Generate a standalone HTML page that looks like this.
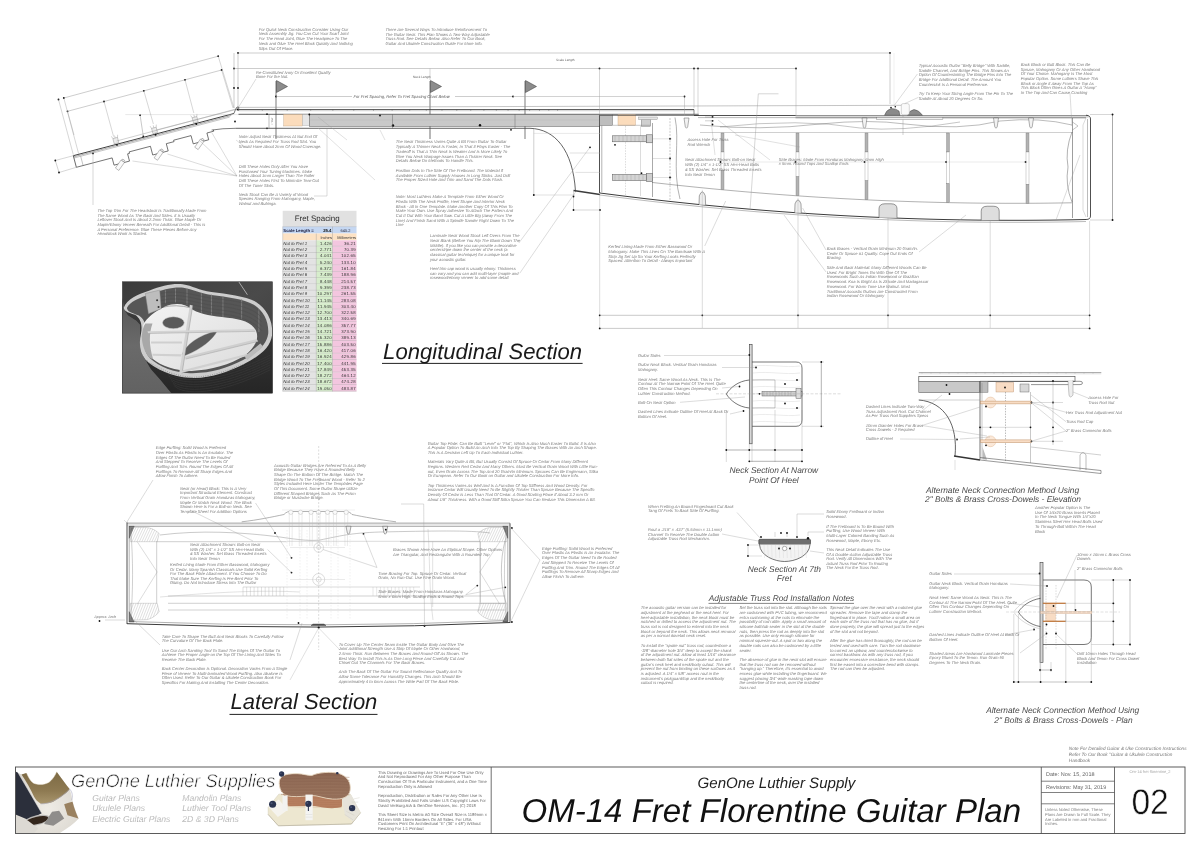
<!DOCTYPE html>
<html><head><meta charset="utf-8"><title>OM-14 Fret Florentine Guitar Plan</title>
<style>html,body{margin:0;padding:0;background:#fff;overflow:hidden;}svg{display:block;will-change:transform;}text{font-family:"Liberation Sans",sans-serif;}</style>
</head><body>
<svg width="1200" height="849" viewBox="0 0 1200 849" text-rendering="geometricPrecision">
<rect x="0" y="0" width="1200" height="849" fill="#ffffff"/>
<line x1="238" y1="53" x2="890" y2="53" stroke="#9a9a9a" stroke-width="0.5"/>
<circle cx="238" cy="53" r="0.9" fill="#111" stroke="none" stroke-width="0.6"/>
<circle cx="890" cy="53" r="0.9" fill="#111" stroke="none" stroke-width="0.6"/>
<line x1="890" y1="53" x2="890" y2="104" stroke="#9a9a9a" stroke-width="0.5"/>
<line x1="234" y1="68.5" x2="796" y2="68.5" stroke="#9a9a9a" stroke-width="0.5"/>
<circle cx="234" cy="68.5" r="0.9" fill="#111" stroke="none" stroke-width="0.6"/>
<circle cx="599.5" cy="68.5" r="0.9" fill="#111" stroke="none" stroke-width="0.6"/>
<circle cx="694" cy="68.5" r="0.9" fill="#111" stroke="none" stroke-width="0.6"/>
<circle cx="698" cy="68.5" r="0.9" fill="#111" stroke="none" stroke-width="0.6"/>
<circle cx="796" cy="68.5" r="0.9" fill="#111" stroke="none" stroke-width="0.6"/>
<line x1="234" y1="53" x2="234" y2="108" stroke="#9a9a9a" stroke-width="0.5"/>
<line x1="238" y1="53" x2="238" y2="108" stroke="#9a9a9a" stroke-width="0.5"/>
<circle cx="234" cy="88" r="0.9" fill="#111" stroke="none" stroke-width="0.6"/>
<circle cx="238" cy="88" r="0.9" fill="#111" stroke="none" stroke-width="0.6"/>
<text x="556" y="60.5" font-family="Liberation Sans" font-size="3.2" font-style="normal" font-weight="normal" fill="#666" text-anchor="start" ><tspan x="556" dy="0">Scale Length</tspan></text>
<text x="413" y="77.5" font-family="Liberation Sans" font-size="3.2" font-style="normal" font-weight="normal" fill="#666" text-anchor="start" ><tspan x="413" dy="0">Neck Length</tspan></text>
<line x1="430" y1="68.5" x2="430" y2="80" stroke="#9a9a9a" stroke-width="0.4"/>
<line x1="276" y1="81" x2="276" y2="139" stroke="#222" stroke-width="0.6"/>
<polygon points="276.5,80.5 276.5,92.5 287.5,86.5" stroke="#333" stroke-width="0.5" fill="#8c8c8c"/>
<line x1="430" y1="81" x2="430" y2="139" stroke="#222" stroke-width="0.6"/>
<polygon points="430.5,80.5 430.5,92.5 441.5,86.5" stroke="#333" stroke-width="0.5" fill="#8c8c8c"/>
<line x1="525" y1="81" x2="525" y2="139" stroke="#222" stroke-width="0.6"/>
<polygon points="525.5,80.5 525.5,92.5 536.5,86.5" stroke="#333" stroke-width="0.5" fill="#8c8c8c"/>
<circle cx="276" cy="96.5" r="0.9" fill="#111" stroke="none" stroke-width="0.6"/>
<line x1="276" y1="96.5" x2="352" y2="96.5" stroke="#9a9a9a" stroke-width="0.5"/>
<line x1="455" y1="96.5" x2="513" y2="96.5" stroke="#9a9a9a" stroke-width="0.5"/>
<circle cx="513" cy="96.5" r="0.9" fill="#111" stroke="none" stroke-width="0.6"/>
<text x="353.5" y="97.8" font-family="Liberation Sans" font-size="4.1" font-style="italic" font-weight="normal" fill="#5a5a5a" text-anchor="start" ><tspan x="353.5" dy="0">For Fret Spacing, Refer To Fret Spacing Chart Below</tspan></text>
<g transform="translate(73.3,155.7) rotate(-14.72)">
<line x1="0" y1="0" x2="166" y2="0" stroke="#3c3c3c" stroke-width="0.9"/>
<line x1="0" y1="1.2" x2="163" y2="1.2" stroke="#666" stroke-width="0.5"/>
<line x1="0" y1="2.4" x2="161" y2="2.4" stroke="#888" stroke-width="0.45"/>
<line x1="0" y1="0" x2="0" y2="12" stroke="#3c3c3c" stroke-width="0.7"/>
<line x1="7" y1="2.4" x2="7" y2="12" stroke="#777" stroke-width="0.4"/>
<polyline points="0,12 37,12 37,19.5 53,19.5 53,12 55,12 55,10.5 77,10.5 77,19.5 93,19.5 93,12 101,12 101,10.5 119,10.5 119,19 135,19 135,12 142,12 142,10.5" stroke="#3c3c3c" stroke-width="0.65" fill="none"/>
<g transform="translate(45,19) rotate(50)"><rect x="-2" y="-2" width="4.2" height="10" fill="#fafafa" stroke="#555" stroke-width="0.35"/><rect x="-1.2" y="-3.6" width="2.4" height="1.8" fill="#eee" stroke="#555" stroke-width="0.35"/></g>
<rect x="42.6" y="-6.5" width="4.8" height="5.5" fill="#ececec" stroke="#777" stroke-width="0.35" rx="0" />
<path d="M42.6,-6.5 L41.8,-9 M47.4,-6.5 L48.2,-9 M45,-6.5 L45,-9" stroke="#888" stroke-width="0.35" fill="none" />
<circle cx="45" cy="0.6" r="0.95" fill="#111" stroke="none" stroke-width="0.6"/>
<g transform="translate(85,19) rotate(50)"><rect x="-2" y="-2" width="4.2" height="10" fill="#fafafa" stroke="#555" stroke-width="0.35"/><rect x="-1.2" y="-3.6" width="2.4" height="1.8" fill="#eee" stroke="#555" stroke-width="0.35"/></g>
<rect x="82.6" y="-6.5" width="4.8" height="5.5" fill="#ececec" stroke="#777" stroke-width="0.35" rx="0" />
<path d="M82.6,-6.5 L81.8,-9 M87.4,-6.5 L88.2,-9 M85,-6.5 L85,-9" stroke="#888" stroke-width="0.35" fill="none" />
<circle cx="85" cy="0.6" r="0.95" fill="#111" stroke="none" stroke-width="0.6"/>
<g transform="translate(127,19) rotate(50)"><rect x="-2" y="-2" width="4.2" height="10" fill="#fafafa" stroke="#555" stroke-width="0.35"/><rect x="-1.2" y="-3.6" width="2.4" height="1.8" fill="#eee" stroke="#555" stroke-width="0.35"/></g>
<rect x="124.6" y="-6.5" width="4.8" height="5.5" fill="#ececec" stroke="#777" stroke-width="0.35" rx="0" />
<path d="M124.6,-6.5 L123.8,-9 M129.4,-6.5 L130.2,-9 M127,-6.5 L127,-9" stroke="#888" stroke-width="0.35" fill="none" />
<circle cx="127" cy="0.6" r="0.95" fill="#111" stroke="none" stroke-width="0.6"/>
</g>
<path d="M211.6,130.1 Q222,128.3 236,128.3" stroke="#3c3c3c" stroke-width="0.65" fill="none" />
<circle cx="93" cy="153.4" r="0.9" fill="#111" stroke="none" stroke-width="0.6"/>
<circle cx="140.1" cy="115.2" r="0.9" fill="#111" stroke="none" stroke-width="0.6"/>
<circle cx="143.3" cy="136.3" r="0.9" fill="#111" stroke="none" stroke-width="0.6"/>
<line x1="140.1" y1="115.2" x2="143.3" y2="136.3" stroke="#777" stroke-width="0.4"/>
<line x1="125.3" y1="114.6" x2="240" y2="114.6" stroke="#bbb" stroke-width="0.35"/>
<line x1="116.6" y1="141" x2="236" y2="109" stroke="#999" stroke-width="0.45"/>
<line x1="156.3" y1="130" x2="236" y2="109.5" stroke="#999" stroke-width="0.45"/>
<line x1="63.8" y1="98" x2="218.2" y2="56.2" stroke="#9a9a9a" stroke-width="0.5"/>
<circle cx="63.8" cy="98" r="0.9" fill="#111" stroke="none" stroke-width="0.6"/>
<circle cx="218.2" cy="56.2" r="0.9" fill="#111" stroke="none" stroke-width="0.6"/>
<circle cx="58.5" cy="99.5" r="0.9" fill="#111" stroke="none" stroke-width="0.6"/>
<line x1="67.5" y1="111.3" x2="221.6" y2="70" stroke="#9a9a9a" stroke-width="0.5"/>
<circle cx="67.5" cy="111.3" r="0.9" fill="#111" stroke="none" stroke-width="0.6"/>
<circle cx="221.6" cy="70" r="0.9" fill="#111" stroke="none" stroke-width="0.6"/>
<circle cx="104" cy="101.5" r="0.9" fill="#111" stroke="none" stroke-width="0.6"/>
<circle cx="143.8" cy="90.8" r="0.9" fill="#111" stroke="none" stroke-width="0.6"/>
<circle cx="185" cy="79.8" r="0.9" fill="#111" stroke="none" stroke-width="0.6"/>
<line x1="58.5" y1="99.5" x2="73.3" y2="154.7" stroke="#9a9a9a" stroke-width="0.4"/>
<line x1="63.8" y1="98" x2="78.6" y2="153.6" stroke="#9a9a9a" stroke-width="0.4"/>
<line x1="67.5" y1="111.3" x2="74" y2="135" stroke="#9a9a9a" stroke-width="0.4"/>
<line x1="104" y1="101.5" x2="113.6" y2="136.6" stroke="#9a9a9a" stroke-width="0.4"/>
<line x1="143.8" y1="90.8" x2="153.4" y2="124" stroke="#9a9a9a" stroke-width="0.4"/>
<line x1="185" y1="79.8" x2="193.8" y2="113" stroke="#9a9a9a" stroke-width="0.4"/>
<line x1="218.2" y1="56.2" x2="234" y2="108" stroke="#9a9a9a" stroke-width="0.4"/>
<line x1="221.6" y1="70" x2="233" y2="108" stroke="#9a9a9a" stroke-width="0.4"/>
<line x1="55.3" y1="160.5" x2="59" y2="172.5" stroke="#9a9a9a" stroke-width="0.45"/>
<line x1="55.3" y1="160.5" x2="73.3" y2="155.7" stroke="#9a9a9a" stroke-width="0.4"/>
<line x1="59" y1="172.5" x2="76" y2="167.4" stroke="#9a9a9a" stroke-width="0.4"/>
<circle cx="55.3" cy="160.5" r="0.9" fill="#111" stroke="none" stroke-width="0.6"/>
<circle cx="59" cy="172.5" r="0.9" fill="#111" stroke="none" stroke-width="0.6"/>
<line x1="93" y1="153.4" x2="93" y2="205" stroke="#9a9a9a" stroke-width="0.4"/>
<line x1="132.5" y1="161" x2="237" y2="176" stroke="#9a9a9a" stroke-width="0.35"/>
<line x1="167.5" y1="154" x2="237" y2="176" stroke="#9a9a9a" stroke-width="0.35"/>
<line x1="200" y1="141" x2="237" y2="176" stroke="#9a9a9a" stroke-width="0.35"/>
<line x1="212" y1="133" x2="237" y2="176" stroke="#9a9a9a" stroke-width="0.35"/>
<line x1="238" y1="107.4" x2="905" y2="105.3" stroke="#8a8a8a" stroke-width="0.5"/>
<line x1="238.5" y1="109.6" x2="694" y2="109.6" stroke="#3c3c3c" stroke-width="0.9"/>
<line x1="238.5" y1="110.8" x2="694" y2="110.8" stroke="#999" stroke-width="0.35"/>
<line x1="238.5" y1="114.3" x2="698.7" y2="114.3" stroke="#3c3c3c" stroke-width="0.8"/>
<line x1="694" y1="109.6" x2="694" y2="114.3" stroke="#3c3c3c" stroke-width="0.6"/>
<line x1="262.3476426547058" y1="109" x2="262.3476426547058" y2="110.8" stroke="#555" stroke-width="0.45"/>
<line x1="287.2165057561991" y1="109" x2="287.2165057561991" y2="110.8" stroke="#555" stroke-width="0.45"/>
<line x1="310.68958682329617" y1="109" x2="310.68958682329617" y2="110.8" stroke="#555" stroke-width="0.45"/>
<line x1="332.8452250820243" y1="109" x2="332.8452250820243" y2="110.8" stroke="#555" stroke-width="0.45"/>
<line x1="353.7573629155053" y1="109" x2="353.7573629155053" y2="110.8" stroke="#555" stroke-width="0.45"/>
<line x1="373.49579263978717" y1="109" x2="373.49579263978717" y2="110.8" stroke="#555" stroke-width="0.45"/>
<line x1="392.12638942920955" y1="109" x2="392.12638942920955" y2="110.8" stroke="#555" stroke-width="0.45"/>
<line x1="409.7113311686754" y1="109" x2="409.7113311686754" y2="110.8" stroke="#555" stroke-width="0.45"/>
<line x1="426.3093059665613" y1="109" x2="426.3093059665613" y2="110.8" stroke="#555" stroke-width="0.45"/>
<line x1="441.97570802082396" y1="109" x2="441.97570802082396" y2="110.8" stroke="#555" stroke-width="0.45"/>
<line x1="456.7628224919862" y1="109" x2="456.7628224919862" y2="110.8" stroke="#555" stroke-width="0.45"/>
<line x1="470.72" y1="109" x2="470.72" y2="110.8" stroke="#555" stroke-width="0.45"/>
<line x1="483.8938213273529" y1="109" x2="483.8938213273529" y2="110.8" stroke="#555" stroke-width="0.45"/>
<line x1="496.32825287809953" y1="109" x2="496.32825287809953" y2="110.8" stroke="#555" stroke-width="0.45"/>
<line x1="508.0647934116481" y1="109" x2="508.0647934116481" y2="110.8" stroke="#555" stroke-width="0.45"/>
<line x1="519.1426125410121" y1="109" x2="519.1426125410121" y2="110.8" stroke="#555" stroke-width="0.45"/>
<line x1="529.5986814577527" y1="109" x2="529.5986814577527" y2="110.8" stroke="#555" stroke-width="0.45"/>
<line x1="539.4678963198935" y1="109" x2="539.4678963198935" y2="110.8" stroke="#555" stroke-width="0.45"/>
<line x1="548.7831947146047" y1="109" x2="548.7831947146047" y2="110.8" stroke="#555" stroke-width="0.45"/>
<line x1="557.5756655843377" y1="109" x2="557.5756655843377" y2="110.8" stroke="#555" stroke-width="0.45"/>
<path d="M233.9,113.5 L235.5,109.5 L237,107 L238.8,107.3 L238.6,110.8" stroke="#3c3c3c" stroke-width="0.7" fill="none" />
<circle cx="237.5" cy="109.5" r="1.0" fill="#111" stroke="none" stroke-width="0.6"/>
<circle cx="235" cy="121.5" r="0.9" fill="#111" stroke="none" stroke-width="0.6"/>
<circle cx="267" cy="114.2" r="0.9" fill="#111" stroke="none" stroke-width="0.6"/>
<circle cx="267" cy="128.3" r="0.9" fill="#111" stroke="none" stroke-width="0.6"/>
<path d="M236,128.3 L530,128.3 C555,129 573,150 575.5,191.5" stroke="#3c3c3c" stroke-width="0.8" fill="none" />
<rect x="283.8" y="114.4" width="18.7" height="11.6" fill="#fbdcbc" stroke="#bda080" stroke-width="0.4" rx="0" />
<rect x="302.5" y="114.4" width="6.8" height="11.3" fill="#e6e6e6" stroke="#999" stroke-width="0.3" rx="0" />
<rect x="309.3" y="114.4" width="290.5" height="11.9" fill="#c9c9c9" stroke="#555" stroke-width="0.5" rx="0" />
<line x1="309.3" y1="120" x2="599" y2="120" stroke="#b0b0b0" stroke-width="0.3"/>
<circle cx="309.3" cy="114.5" r="0.9" fill="#111" stroke="none" stroke-width="0.6"/>
<circle cx="380" cy="115.5" r="0.9" fill="#111" stroke="none" stroke-width="0.6"/>
<circle cx="393" cy="125.5" r="1.2" fill="#111" stroke="none" stroke-width="0.6"/>
<circle cx="480" cy="125.3" r="1.2" fill="#111" stroke="none" stroke-width="0.6"/>
<circle cx="511" cy="129.8" r="0.9" fill="#111" stroke="none" stroke-width="0.6"/>
<line x1="269" y1="114.2" x2="269" y2="128.5" stroke="#555" stroke-width="0.4"/>
<line x1="392.5" y1="114.2" x2="392.5" y2="128.5" stroke="#555" stroke-width="0.4"/>
<line x1="515" y1="114.2" x2="515" y2="128.5" stroke="#555" stroke-width="0.4"/>
<text x="272.5" y="125" font-family="Liberation Sans" font-size="2.6" font-style="normal" font-weight="normal" fill="#666" text-anchor="start" transform="rotate(-90 272.5 125)"><tspan x="272.5" dy="0">1" Ref</tspan></text>
<line x1="599.5" y1="115.5" x2="599.5" y2="193" stroke="#3c3c3c" stroke-width="0.9"/>
<line x1="601.8" y1="125.5" x2="601.8" y2="192" stroke="#666" stroke-width="0.5"/>
<rect x="599.8" y="114.5" width="12.7" height="11" fill="#bdbdbd" stroke="#555" stroke-width="0.4" rx="0" />
<rect x="618" y="114.8" width="17.5" height="10.5" fill="#fbdcbc" stroke="#c8a888" stroke-width="0.4" rx="0" />
<rect x="641.3" y="119" width="9.4" height="7.3" fill="#cfcfcf" stroke="#666" stroke-width="0.4" rx="0" />
<rect x="638.7" y="117" width="18.6" height="2.7" fill="#e4e4e4" stroke="#777" stroke-width="0.35" rx="0" />
<line x1="599.5" y1="115.5" x2="698.8" y2="115.5" stroke="#3c3c3c" stroke-width="0.6"/>
<line x1="612.5" y1="125.3" x2="650" y2="125.3" stroke="#777" stroke-width="0.4"/>
<line x1="652.5" y1="123" x2="652.5" y2="197" stroke="#555" stroke-width="0.5"/>
<line x1="670" y1="118" x2="670" y2="200" stroke="#777" stroke-width="0.4" stroke-dasharray="2,1.2"/>
<path d="M675,117.5 C680,140 672,170 680,199" stroke="#555" stroke-width="0.45" fill="none" />
<line x1="625.5" y1="126" x2="625.5" y2="196" stroke="#999" stroke-width="0.35" stroke-dasharray="1.5,1.2"/>
<line x1="640.5" y1="126" x2="640.5" y2="196" stroke="#999" stroke-width="0.35"/>
<rect x="612.5" y="135.8" width="34" height="6" fill="#d4d4d4" stroke="#555" stroke-width="0.5" rx="0" />
<rect x="646.5" y="134.8" width="6" height="8" fill="#cfcfcf" stroke="#555" stroke-width="0.5" rx="0" />
<line x1="615" y1="135.8" x2="615" y2="141.8" stroke="#888" stroke-width="0.3"/>
<line x1="619" y1="135.8" x2="619" y2="141.8" stroke="#888" stroke-width="0.3"/>
<line x1="623" y1="135.8" x2="623" y2="141.8" stroke="#888" stroke-width="0.3"/>
<line x1="627" y1="135.8" x2="627" y2="141.8" stroke="#888" stroke-width="0.3"/>
<line x1="631" y1="135.8" x2="631" y2="141.8" stroke="#888" stroke-width="0.3"/>
<line x1="635" y1="135.8" x2="635" y2="141.8" stroke="#888" stroke-width="0.3"/>
<line x1="639" y1="135.8" x2="639" y2="141.8" stroke="#888" stroke-width="0.3"/>
<line x1="643" y1="135.8" x2="643" y2="141.8" stroke="#888" stroke-width="0.3"/>
<line x1="652.5" y1="138.8" x2="672" y2="138.8" stroke="#999" stroke-width="0.3"/>
<circle cx="670" cy="138.8" r="0.9" fill="#111" stroke="none" stroke-width="0.6"/>
<rect x="612.5" y="174.5" width="34" height="6" fill="#d4d4d4" stroke="#555" stroke-width="0.5" rx="0" />
<rect x="646.5" y="173.5" width="6" height="8" fill="#cfcfcf" stroke="#555" stroke-width="0.5" rx="0" />
<line x1="615" y1="174.5" x2="615" y2="180.5" stroke="#888" stroke-width="0.3"/>
<line x1="619" y1="174.5" x2="619" y2="180.5" stroke="#888" stroke-width="0.3"/>
<line x1="623" y1="174.5" x2="623" y2="180.5" stroke="#888" stroke-width="0.3"/>
<line x1="627" y1="174.5" x2="627" y2="180.5" stroke="#888" stroke-width="0.3"/>
<line x1="631" y1="174.5" x2="631" y2="180.5" stroke="#888" stroke-width="0.3"/>
<line x1="635" y1="174.5" x2="635" y2="180.5" stroke="#888" stroke-width="0.3"/>
<line x1="639" y1="174.5" x2="639" y2="180.5" stroke="#888" stroke-width="0.3"/>
<line x1="643" y1="174.5" x2="643" y2="180.5" stroke="#888" stroke-width="0.3"/>
<line x1="652.5" y1="177.5" x2="672" y2="177.5" stroke="#999" stroke-width="0.3"/>
<circle cx="670" cy="177.5" r="0.9" fill="#111" stroke="none" stroke-width="0.6"/>
<circle cx="615" cy="144.8" r="0.9" fill="#111" stroke="none" stroke-width="0.6"/>
<circle cx="641.5" cy="173.2" r="0.9" fill="#111" stroke="none" stroke-width="0.6"/>
<circle cx="670" cy="158.5" r="0.9" fill="#111" stroke="none" stroke-width="0.6"/>
<line x1="652.5" y1="158.5" x2="670" y2="158.5" stroke="#999" stroke-width="0.3"/>
<path d="M573.5,190.5 L600,194.5" stroke="#3c3c3c" stroke-width="1.6" fill="none" />
<line x1="573.5" y1="190.5" x2="573.5" y2="210.5" stroke="#9a9a9a" stroke-width="0.4"/>
<circle cx="573.5" cy="196.5" r="0.9" fill="#111" stroke="none" stroke-width="0.6"/>
<line x1="573.5" y1="210" x2="600" y2="210" stroke="#9a9a9a" stroke-width="0.4"/>
<circle cx="573.5" cy="210" r="0.9" fill="#111" stroke="none" stroke-width="0.6"/>
<circle cx="600" cy="210" r="0.9" fill="#111" stroke="none" stroke-width="0.6"/>
<line x1="533.8" y1="129" x2="533.8" y2="196" stroke="#888" stroke-width="0.4"/>
<line x1="569.7" y1="153" x2="600" y2="153" stroke="#aaa" stroke-width="0.35"/>
<line x1="575.4" y1="172.4" x2="600" y2="172.4" stroke="#aaa" stroke-width="0.35"/>
<line x1="533.8" y1="195" x2="575" y2="195" stroke="#aaa" stroke-width="0.35"/>
<line x1="533.8" y1="133.4" x2="600" y2="133.4" stroke="#bbb" stroke-width="0.35"/>
<circle cx="533.8" cy="195" r="0.9" fill="#111" stroke="none" stroke-width="0.6"/>
<line x1="599.5" y1="68.5" x2="599.5" y2="115" stroke="#9a9a9a" stroke-width="0.4"/>
<line x1="694" y1="68.5" x2="694" y2="108" stroke="#9a9a9a" stroke-width="0.4"/>
<line x1="698" y1="68.5" x2="698" y2="116" stroke="#9a9a9a" stroke-width="0.4"/>
<line x1="796" y1="68.5" x2="796" y2="115" stroke="#9a9a9a" stroke-width="0.4"/>
<line x1="684.5" y1="96.5" x2="684.5" y2="116" stroke="#9a9a9a" stroke-width="0.4"/>
<circle cx="684.5" cy="96.5" r="0.9" fill="#111" stroke="none" stroke-width="0.6"/>
<line x1="513" y1="96.5" x2="684.5" y2="96.5" stroke="#9a9a9a" stroke-width="0.45"/>
<circle cx="712.5" cy="117" r="0.9" fill="#111" stroke="none" stroke-width="0.6"/>
<circle cx="712.5" cy="120.8" r="0.9" fill="#111" stroke="none" stroke-width="0.6"/>
<circle cx="712.5" cy="124.5" r="0.9" fill="#111" stroke="none" stroke-width="0.6"/>
<line x1="705" y1="117" x2="714" y2="117" stroke="#777" stroke-width="0.35"/>
<line x1="705" y1="120.8" x2="714" y2="120.8" stroke="#777" stroke-width="0.35"/>
<line x1="694" y1="115.5" x2="1088" y2="115.5" stroke="#3c3c3c" stroke-width="0.9"/>
<line x1="698" y1="117.6" x2="1086" y2="117.6" stroke="#777" stroke-width="0.5"/>
<rect x="795.5" y="115.5" width="293" height="2.3" fill="#d8d8d8" stroke="none" stroke-width="0.6" rx="0" />
<line x1="795.5" y1="117.8" x2="1086" y2="117.8" stroke="#3c3c3c" stroke-width="0.5"/>
<path d="M1086,115.2 Q1090.5,115.5 1090.5,119 L1090.5,216 Q1090.5,219.5 1086,219.5" stroke="#3c3c3c" stroke-width="0.9" fill="none" />
<line x1="1087.5" y1="119" x2="1087.5" y2="217" stroke="#777" stroke-width="0.5"/>
<polyline points="600,193.0 606,193.79 612,194.56 618,195.32 624,196.07 630,196.81 636,197.54 642,198.26 648,198.96 654,199.65 660,200.34 666,201.01 672,201.67 678,202.31 684,202.95 690,203.57 696,204.19 702,204.79 708,205.38 714,205.96 720,206.53 726,207.08 732,207.63 738,208.16 744,208.68 750,209.19 756,209.69 762,210.18 768,210.65 774,211.12 780,211.57 786,212.01 792,212.44 798,212.86 804,213.27 810,213.67 816,214.05 822,214.42 828,214.78 834,215.13 840,215.47 846,215.8 852,216.12 858,216.42 864,216.71 870,216.99 876,217.26 882,217.52 888,217.77 894,218.01 900,218.23 906,218.44 912,218.64 918,218.83 924,219.01 930,219.18 936,219.33 942,219.48 948,219.61 954,219.73 960,219.84 966,219.94 972,220.03 978,220.1 984,220.17 990,220.22 996,220.26 1002,220.29 1008,220.31 1014,220.31 1020,220.31 1026,220.29 1032,220.26 1038,220.23 1044,220.17 1050,220.11 1056,220.04 1062,219.95 1068,219.86 1074,219.75 1080,219.63 1086,219.5" stroke="#3c3c3c" stroke-width="1.0" fill="none"/>
<polyline points="600,195.0 606,195.79 612,196.56 618,197.32 624,198.07 630,198.81 636,199.54 642,200.26 648,200.96 654,201.65 660,202.34 666,203.01 672,203.67 678,204.31 684,204.95 690,205.57 696,206.19 702,206.79 708,207.38 714,207.96 720,208.53 726,209.08 732,209.63 738,210.16 744,210.68 750,211.19 756,211.69 762,212.18 768,212.65 774,213.12 780,213.57 786,214.01 792,214.44 798,214.86 804,215.27 810,215.67 816,216.05 822,216.42 828,216.78 834,217.13 840,217.47 846,217.8 852,218.12 858,218.42 864,218.71 870,218.99 876,219.26 882,219.52 888,219.77 894,220.01 900,220.23 906,220.44 912,220.64 918,220.83 924,221.01 930,221.18 936,221.33 942,221.48 948,221.61 954,221.73 960,221.84 966,221.94 972,222.03 978,222.1 984,222.17 990,222.22 996,222.26 1002,222.29 1008,222.31 1014,222.31 1020,222.31 1026,222.29 1032,222.26 1038,222.23 1044,222.17 1050,222.11 1056,222.04 1062,221.95 1068,221.86 1074,221.75 1080,221.63 1086,221.5" stroke="#777" stroke-width="0.5" fill="none"/>
<path d="M700,125 Q760,131 820,124 Q870,119 905,124" stroke="#3c3c3c" stroke-width="0.35" fill="none" />
<path d="M905,124 Q960,131 1000,121 Q1040,117 1072,125" stroke="#3c3c3c" stroke-width="0.35" fill="none" />
<path d="M720,127 Q800,118 860,128 Q900,132 960,122" stroke="#3c3c3c" stroke-width="0.3" fill="none" />
<line x1="700" y1="132.5" x2="1072.5" y2="132.5" stroke="#888" stroke-width="0.4"/>
<polyline points="652,182.42 658,183.11 664,183.78 670,184.45 676,185.1 682,185.74 688,186.37 694,186.98 700,187.59 706,188.18 712,188.77 718,189.34 724,189.9 730,190.45 736,190.98 742,191.51 748,192.02 754,192.53 760,193.02 766,193.5 772,193.97 778,194.42 784,194.87 790,195.3 796,195.72 802,196.14 808,196.54 814,196.92 820,197.3 826,197.67 832,198.02 838,198.36 844,198.69 850,199.01 856,199.32 862,199.62 868,199.9 874,200.18 880,200.44 886,200.69 892,200.93 898,201.16 904,201.37 910,201.58 916,201.77 922,201.95 928,202.12 934,202.28 940,202.43 946,202.57 952,202.69 958,202.81 964,202.91 970,203.0 976,203.08 982,203.15 988,203.2 994,203.25 1000,203.28 1006,203.3 1012,203.31 1018,203.31 1024,203.3 1030,203.27 1036,203.24 1042,203.19 1048,203.13 1054,203.06 1060,202.98 1066,202.89 1072,202.79" stroke="#3c3c3c" stroke-width="0.4" fill="none"/>
<line x1="1072.5" y1="118" x2="1072.5" y2="218" stroke="#3c3c3c" stroke-width="0.5"/>
<path d="M1072.5,122 L1078,126 L1072.5,130" stroke="#3c3c3c" stroke-width="0.3" fill="none" />
<path d="M1072,132 Q1065,150 1068,167 Q1065,185 1072,202" stroke="#3c3c3c" stroke-width="0.4" fill="none" />
<path d="M1086,118 L1083,125 L1083,210 L1086,217" stroke="#999" stroke-width="0.35" fill="none" />
<rect x="721.0" y="133" width="3" height="19" fill="#b3b3b3" stroke="#666" stroke-width="0.3" rx="0" />
<rect x="721.0" y="152" width="3" height="18.759506249999987" fill="#ffffff" stroke="#777" stroke-width="0.3" rx="0" />
<rect x="721.0" y="170.75950625" width="3" height="19" fill="#b3b3b3" stroke="#666" stroke-width="0.3" rx="0" />
<circle cx="720.5" cy="162" r="0.9" fill="#111" stroke="none" stroke-width="0.6"/>
<rect x="796.0" y="133" width="3" height="19" fill="#b3b3b3" stroke="#666" stroke-width="0.3" rx="0" />
<rect x="796.0" y="152" width="3" height="24.828506249999975" fill="#ffffff" stroke="#777" stroke-width="0.3" rx="0" />
<rect x="796.0" y="176.82850624999998" width="3" height="19" fill="#b3b3b3" stroke="#666" stroke-width="0.3" rx="0" />
<circle cx="795.5" cy="162" r="0.9" fill="#111" stroke="none" stroke-width="0.6"/>
<rect x="865.0" y="133" width="3" height="19" fill="#b3b3b3" stroke="#666" stroke-width="0.3" rx="0" />
<rect x="865.0" y="152" width="3" height="28.832162249999982" fill="#ffffff" stroke="#777" stroke-width="0.3" rx="0" />
<rect x="865.0" y="180.83216224999998" width="3" height="19" fill="#b3b3b3" stroke="#666" stroke-width="0.3" rx="0" />
<circle cx="864.5" cy="162" r="0.9" fill="#111" stroke="none" stroke-width="0.6"/>
<rect x="946.5" y="133" width="3" height="19" fill="#b3b3b3" stroke="#666" stroke-width="0.3" rx="0" />
<rect x="946.5" y="152" width="3" height="31.610863999999992" fill="#ffffff" stroke="#777" stroke-width="0.3" rx="0" />
<rect x="946.5" y="183.610864" width="3" height="19" fill="#b3b3b3" stroke="#666" stroke-width="0.3" rx="0" />
<circle cx="946" cy="162" r="0.9" fill="#111" stroke="none" stroke-width="0.6"/>
<rect x="1026.0" y="133" width="3" height="19" fill="#b3b3b3" stroke="#666" stroke-width="0.3" rx="0" />
<rect x="1026.0" y="152" width="3" height="32.28625625000001" fill="#ffffff" stroke="#777" stroke-width="0.3" rx="0" />
<rect x="1026.0" y="184.28625625" width="3" height="19" fill="#b3b3b3" stroke="#666" stroke-width="0.3" rx="0" />
<circle cx="1025.5" cy="162" r="0.9" fill="#111" stroke="none" stroke-width="0.6"/>
<line x1="722.5" y1="162" x2="1027.5" y2="162" stroke="#bbb" stroke-width="0.3"/>
<path d="M684.0,118 L689.0,118 L687.7,127 Q686.5,129.5 685.3,127 Z" stroke="#3c3c3c" stroke-width="0.4" fill="#f2f2f2" />
<path d="M993.5,118 L998.5,118 L997.2,127 Q996,129.5 994.8,127 Z" stroke="#3c3c3c" stroke-width="0.4" fill="#f2f2f2" />
<path d="M1028.5,118 L1033.5,118 L1032.2,127 Q1031,129.5 1029.8,127 Z" stroke="#3c3c3c" stroke-width="0.4" fill="#f2f2f2" />
<path d="M862.0,118 L867.0,118 L865.7,127 Q864.5,129.5 863.3,127 Z" stroke="#3c3c3c" stroke-width="0.4" fill="#f2f2f2" />
<path d="M699.0,204.81915888999998 L699.3,195.81915888999998 Q702.3,187.81915888999998 705.3,195.81915888999998 L705.5999999999999,204.81915888999998" stroke="#3c3c3c" stroke-width="0.45" fill="#eeeeee" />
<line x1="702.3" y1="189.81915888999998" x2="702.3" y2="204.81915888999998" stroke="#999" stroke-width="0.3"/>
<path d="M794.7,212.86296399999998 L795,203.86296399999998 Q798,195.86296399999998 801,203.86296399999998 L801.3,212.86296399999998" stroke="#3c3c3c" stroke-width="0.45" fill="#eeeeee" />
<line x1="798" y1="197.86296399999998" x2="798" y2="212.86296399999998" stroke="#999" stroke-width="0.3"/>
<path d="M879,217.77030399999998 L879,208.77030399999998 Q879,203.77030399999998 885,203.77030399999998 L891,203.77030399999998 Q897,203.77030399999998 897,208.77030399999998 L897,217.77030399999998" stroke="#3c3c3c" stroke-width="0.5" fill="#dedede" />
<path d="M981.2,220.21964964 L981.2,211.21964964 Q981.2,206.21964964 987.2,206.21964964 L993.2,206.21964964 Q999.2,206.21964964 999.2,211.21964964 L999.2,220.21964964" stroke="#3c3c3c" stroke-width="0.5" fill="#dedede" />
<path d="M884.5,115.3 Q886,110 891,108.5 Q896,108.3 899,111 L900,115.3 Z" stroke="#333" stroke-width="0.4" fill="#8a8a8a" />
<path d="M907.5,115.3 Q909,110.5 914,109.5 Q919,110 922.5,115.3 Z" stroke="#333" stroke-width="0.4" fill="#8a8a8a" />
<rect x="901.3" y="103.6" width="8" height="11.2" fill="#fafafa" stroke="#999" stroke-width="0.4" rx="1.8" />
<circle cx="891" cy="107.6" r="0.8" fill="#111" stroke="none" stroke-width="0.6"/>
<circle cx="895.3" cy="106.8" r="0.8" fill="#111" stroke="none" stroke-width="0.6"/>
<line x1="903" y1="115" x2="903" y2="135" stroke="#888" stroke-width="0.4"/>
<rect x="876.6" y="117.3" width="66.3" height="2.4" fill="#f0f0f0" stroke="#666" stroke-width="0.35" rx="0" />
<line x1="1090" y1="114.5" x2="1114" y2="114.5" stroke="#9a9a9a" stroke-width="0.4"/>
<line x1="1090" y1="220" x2="1114" y2="220" stroke="#9a9a9a" stroke-width="0.4"/>
<line x1="1112.5" y1="114.5" x2="1112.5" y2="220" stroke="#555" stroke-width="0.5"/>
<circle cx="1112.5" cy="114.5" r="0.9" fill="#111" stroke="none" stroke-width="0.6"/>
<circle cx="1112.5" cy="220" r="0.9" fill="#111" stroke="none" stroke-width="0.6"/>
<line x1="599.7" y1="192.96044569" x2="599.7" y2="328" stroke="#9a9a9a" stroke-width="0.35"/>
<circle cx="599.7" cy="315.3" r="0.9" fill="#111" stroke="none" stroke-width="0.6"/>
<line x1="702.3" y1="204.81915888999998" x2="702.3" y2="328" stroke="#9a9a9a" stroke-width="0.35"/>
<circle cx="702.3" cy="315.3" r="0.9" fill="#111" stroke="none" stroke-width="0.6"/>
<line x1="798" y1="212.86296399999998" x2="798" y2="328" stroke="#9a9a9a" stroke-width="0.35"/>
<circle cx="798" cy="315.3" r="0.9" fill="#111" stroke="none" stroke-width="0.6"/>
<line x1="888" y1="217.77030399999998" x2="888" y2="328" stroke="#9a9a9a" stroke-width="0.35"/>
<circle cx="888" cy="315.3" r="0.9" fill="#111" stroke="none" stroke-width="0.6"/>
<line x1="990.2" y1="220.21964964" x2="990.2" y2="328" stroke="#9a9a9a" stroke-width="0.35"/>
<circle cx="990.2" cy="315.3" r="0.9" fill="#111" stroke="none" stroke-width="0.6"/>
<line x1="1089.6" y1="221" x2="1089.6" y2="328" stroke="#9a9a9a" stroke-width="0.35"/>
<circle cx="1089.6" cy="315.3" r="0.9" fill="#111" stroke="none" stroke-width="0.6"/>
<line x1="599.7" y1="315.3" x2="1089.6" y2="315.3" stroke="#888" stroke-width="0.45"/>
<line x1="599.7" y1="328.4" x2="1089.6" y2="328.4" stroke="#888" stroke-width="0.45"/>
<circle cx="599.7" cy="328.4" r="0.9" fill="#111" stroke="none" stroke-width="0.6"/>
<circle cx="1089.6" cy="328.4" r="0.9" fill="#111" stroke="none" stroke-width="0.6"/>
<line x1="518.8" y1="243" x2="590" y2="147.3" stroke="#9a9a9a" stroke-width="0.35"/>
<line x1="519.8" y1="273.2" x2="575.4" y2="192.2" stroke="#9a9a9a" stroke-width="0.35"/>
<circle cx="590" cy="147.3" r="0.9" fill="#111" stroke="none" stroke-width="0.6"/>
<line x1="758.3" y1="93.8" x2="778.5" y2="93.8" stroke="#9a9a9a" stroke-width="0.4"/>
<line x1="758.3" y1="93.8" x2="750" y2="210" stroke="#9a9a9a" stroke-width="0.4"/>
<line x1="704.7" y1="246" x2="725.7" y2="201" stroke="#9a9a9a" stroke-width="0.35"/>
<line x1="1056" y1="220" x2="1080" y2="155" stroke="#9a9a9a" stroke-width="0.35"/>
<line x1="826" y1="272" x2="784" y2="215" stroke="#9a9a9a" stroke-width="0.35"/>
<line x1="826" y1="250" x2="802.6" y2="208" stroke="#9a9a9a" stroke-width="0.35"/>
<line x1="919" y1="252" x2="966" y2="215" stroke="#9a9a9a" stroke-width="0.35"/>
<line x1="770" y1="160" x2="718" y2="120" stroke="#9a9a9a" stroke-width="0.3"/>
<line x1="735" y1="135" x2="800" y2="147" stroke="#9a9a9a" stroke-width="0.3"/>
<line x1="917.4" y1="74" x2="894" y2="105.7" stroke="#9a9a9a" stroke-width="0.35"/>
<line x1="918.5" y1="97.3" x2="904.7" y2="103.6" stroke="#9a9a9a" stroke-width="0.35"/>
<line x1="894" y1="53" x2="894" y2="105" stroke="#ccc" stroke-width="0.3"/>
<line x1="1070" y1="93" x2="1072" y2="126" stroke="#9a9a9a" stroke-width="0.35"/>
<line x1="711" y1="120" x2="715" y2="155" stroke="#9a9a9a" stroke-width="0.3"/>
<line x1="430" y1="139" x2="430" y2="130" stroke="#9a9a9a" stroke-width="0.3"/>
<line x1="347" y1="140" x2="318" y2="117" stroke="#9a9a9a" stroke-width="0.3"/>
<line x1="385" y1="140" x2="380" y2="130" stroke="#9a9a9a" stroke-width="0.3"/>
<line x1="318" y1="128" x2="375" y2="180" stroke="#aaa" stroke-width="0.35"/>
<line x1="236" y1="140" x2="245" y2="147" stroke="#9a9a9a" stroke-width="0.3"/>
<line x1="327" y1="129" x2="327" y2="196" stroke="#9a9a9a" stroke-width="0.35"/>
<line x1="314" y1="196" x2="327" y2="196" stroke="#9a9a9a" stroke-width="0.35"/>
<text x="258.8" y="30.75" font-family="Liberation Sans" font-size="4.1" font-style="italic" font-weight="normal" fill="#7a7a7a" text-anchor="start" ><tspan x="258.8" dy="0">For Quick Neck Construction Consider Using Our</tspan><tspan x="258.8" dy="4.7">Neck Assembly Jig. You Can Cut Your Scarf Joint</tspan><tspan x="258.8" dy="4.7">For The Head Joint, Glue The Headpiece To The</tspan><tspan x="258.8" dy="4.7">Neck and Glue The Heel Block Quickly And Nothing</tspan><tspan x="258.8" dy="4.7">Slips Out Of Place.</tspan></text>
<text x="385.5" y="30.95" font-family="Liberation Sans" font-size="4.1" font-style="italic" font-weight="normal" fill="#7a7a7a" text-anchor="start" ><tspan x="385.5" dy="0">There Are Several Ways To Introduce Reinforcement To</tspan><tspan x="385.5" dy="4.7">The Guitar Neck. This Plan Shows A Two-Way Adjustable</tspan><tspan x="385.5" dy="4.7">Truss Rod. See Details Below. Also Refer To Our Book,</tspan><tspan x="385.5" dy="4.7">Guitar And Ukulele Construction Guide For More Info.</tspan></text>
<text x="256" y="73.95" font-family="Liberation Sans" font-size="4.1" font-style="italic" font-weight="normal" fill="#7a7a7a" text-anchor="start" ><tspan x="256" dy="0">Re-Constituted Ivory Or Excellent Quality</tspan><tspan x="256" dy="4.5">Bone For the Nut.</tspan></text>
<line x1="256" y1="79" x2="238" y2="108" stroke="#9a9a9a" stroke-width="0.35"/>
<text x="238.8" y="138.45" font-family="Liberation Sans" font-size="4.1" font-style="italic" font-weight="normal" fill="#7a7a7a" text-anchor="start" ><tspan x="238.8" dy="0">Note: Adjust Neck Thickness At Nut End Of</tspan><tspan x="238.8" dy="4.6">Neck As Required For Truss Rod Slot. You</tspan><tspan x="238.8" dy="4.6">Should Have About 2mm Of Wood Coverage.</tspan></text>
<text x="238.8" y="167.95" font-family="Liberation Sans" font-size="4.1" font-style="italic" font-weight="normal" fill="#7a7a7a" text-anchor="start" ><tspan x="238.8" dy="0">Drill These Holes Only After You Have</tspan><tspan x="238.8" dy="4.65">Purchased Your Tuning Machines. Make</tspan><tspan x="238.8" dy="4.65">Holes About 1mm Larger Than The Roller</tspan><tspan x="238.8" dy="4.65">Drill These Holes First To Minimize Tear-Out</tspan><tspan x="238.8" dy="4.65">Of The Tuner Slots.</tspan></text>
<text x="238.8" y="195.75" font-family="Liberation Sans" font-size="4.1" font-style="italic" font-weight="normal" fill="#7a7a7a" text-anchor="start" ><tspan x="238.8" dy="0">Neck Stock Can Be A Variety of Wood</tspan><tspan x="238.8" dy="4.7">Species Ranging From Mahogany, Maple,</tspan><tspan x="238.8" dy="4.7">Walnut and Bubinga.</tspan></text>
<text x="97.4" y="212.14999999999998" font-family="Liberation Sans" font-size="4.1" font-style="italic" font-weight="normal" fill="#7a7a7a" text-anchor="start" ><tspan x="97.4" dy="0">The Top Trim For The Headstock Is Traditionally Made From</tspan><tspan x="97.4" dy="4.66">The Same Wood As The Back And Sides. It is Usually</tspan><tspan x="97.4" dy="4.66">Leftover Stock And Is About 2.2mm Thick. Glue Maple Or</tspan><tspan x="97.4" dy="4.66">Maple/Ebony Veneer Beneath For Additional Detail - This is</tspan><tspan x="97.4" dy="4.66">A Personal Preference. Glue These Pieces Before Any</tspan><tspan x="97.4" dy="4.66">Headstock Work Is Started.</tspan></text>
<text x="395.8" y="143.25" font-family="Liberation Sans" font-size="4.1" font-style="italic" font-weight="normal" fill="#7a7a7a" text-anchor="start" ><tspan x="395.8" dy="0">The Neck Thickness Varies Quite A Bit From Guitar To Guitar</tspan><tspan x="395.8" dy="4.75">Typically A Thinner Neck Is Faster, In That It Plays Easier - The</tspan><tspan x="395.8" dy="4.75">Tradeoff Is That A Thin Neck Is Weaker And Is More Likely To</tspan><tspan x="395.8" dy="4.75">Give You Neck Warpage Issues Than A Thicker Neck. See</tspan><tspan x="395.8" dy="4.75">Details Below On Methods To Handle This.</tspan></text>
<text x="395.8" y="171.75" font-family="Liberation Sans" font-size="4.1" font-style="italic" font-weight="normal" fill="#7a7a7a" text-anchor="start" ><tspan x="395.8" dy="0">Position Dots In The Side Of The Fretboard. The Material If</tspan><tspan x="395.8" dy="4.75">Available From Luthier Supply Houses In Long Sticks. Just Drill</tspan><tspan x="395.8" dy="4.75">The Proper Sized Hole And Trim and Sand The Dots Flush.</tspan></text>
<text x="395.8" y="198.25" font-family="Liberation Sans" font-size="4.1" font-style="italic" font-weight="normal" fill="#7a7a7a" text-anchor="start" ><tspan x="395.8" dy="0">Note: Most Luthiers Make A Template From Either Wood Or</tspan><tspan x="395.8" dy="4.66">Plastic With The Neck Profile, Heel Shape And Interior Neck</tspan><tspan x="395.8" dy="4.66">Block - All In One Template. Make Another Copy Of This Plan To</tspan><tspan x="395.8" dy="4.66">Make Your Own. Use Spray Adhesive To Attach The Pattern And</tspan><tspan x="395.8" dy="4.66">Cut It Out With Your Band Saw. Cut A Little Big (Away From The</tspan><tspan x="395.8" dy="4.66">Line) And Finish Sand With A Spindle Sander Right Down To The</tspan><tspan x="395.8" dy="4.66">Line</tspan></text>
<text x="430" y="237.45" font-family="Liberation Sans" font-size="4.1" font-style="italic" font-weight="normal" fill="#7a7a7a" text-anchor="start" ><tspan x="430" dy="0">Laminate Neck Wood Stock Left Overs From The</tspan><tspan x="430" dy="4.66">Neck Blank (Before You Rip The Blank Down The</tspan><tspan x="430" dy="4.66">Middle). If you like you can provide a decorative</tspan><tspan x="430" dy="4.66">centerstripe down the center of the neck (a</tspan><tspan x="430" dy="4.66">classical guitar technique) for a unique look for</tspan><tspan x="430" dy="4.66">your acoustic guitar.</tspan><tspan x="430" dy="9.32">Heel trim cap wood is usually ebony. Thickness</tspan><tspan x="430" dy="4.66">can vary and you can add multi-layer (maple and</tspan><tspan x="430" dy="4.66">rosewood/ebony veneer to add some detail.</tspan></text>
<text x="608.3" y="248.45" font-family="Liberation Sans" font-size="4.1" font-style="italic" font-weight="normal" fill="#7a7a7a" text-anchor="start" ><tspan x="608.3" dy="0">Kerfed Lining Made From Either Basswood Or</tspan><tspan x="608.3" dy="4.6">Mahogany. Make This Lines On The Bandsaw With A</tspan><tspan x="608.3" dy="4.6">Strip Jig Set Up So Your Kerfing Looks Perfectly</tspan><tspan x="608.3" dy="4.6">Spaced. Attention To Detail - Always Important</tspan></text>
<text x="687.5" y="141.45" font-family="Liberation Sans" font-size="4.1" font-style="italic" font-weight="normal" fill="#7a7a7a" text-anchor="start" ><tspan x="687.5" dy="0">Access Hole For Truss</tspan><tspan x="687.5" dy="4.5">Rod Wrench</tspan></text>
<text x="685" y="161.45" font-family="Liberation Sans" font-size="4.1" font-style="italic" font-weight="normal" fill="#7a7a7a" text-anchor="start" ><tspan x="685" dy="0">Neck Attachment Shown: Bolt-on Neck</tspan><tspan x="685" dy="4.7">With (2) 1/4" x 1-1/2" SS Hex-Head Bolts</tspan><tspan x="685" dy="4.7">&amp; SS Washer. Set Brass Threaded Inserts</tspan><tspan x="685" dy="4.7">Into Neck Tenon</tspan></text>
<text x="778.8" y="160.75" font-family="Liberation Sans" font-size="4.1" font-style="italic" font-weight="normal" fill="#7a7a7a" text-anchor="start" ><tspan x="778.8" dy="0">Side Braces: Made From Honduras Mahogany. 6mm High</tspan><tspan x="778.8" dy="4.7">x 5mm. Round Tops And Scallop Ends</tspan></text>
<text x="918.8" y="66.95" font-family="Liberation Sans" font-size="4.1" font-style="italic" font-weight="normal" fill="#7a7a7a" text-anchor="start" ><tspan x="918.8" dy="0">Typical Acoustic Guitar "Belly Bridge" With Saddle,</tspan><tspan x="918.8" dy="4.7">Saddle Channel, And Bridge Pins. This Shows An</tspan><tspan x="918.8" dy="4.7">Option Of Countersinking The Bridge Pins Into The</tspan><tspan x="918.8" dy="4.7">Bridge For Additional Detail. The Amount You</tspan><tspan x="918.8" dy="4.7">Countersink Is A Personal Preference.</tspan><tspan x="918.8" dy="9.4">Try To Keep Your String Angle From The Pin To The</tspan><tspan x="918.8" dy="4.7">Saddle At About 20 Degrees Or So.</tspan></text>
<text x="1020.8" y="65.95" font-family="Liberation Sans" font-size="4.1" font-style="italic" font-weight="normal" fill="#7a7a7a" text-anchor="start" ><tspan x="1020.8" dy="0">Back Block or Butt Block. This Can Be</tspan><tspan x="1020.8" dy="4.67">Spruce, Mahogany Or Any Other Hardwood</tspan><tspan x="1020.8" dy="4.67">Of Your Choice. Mahogany Is The Most</tspan><tspan x="1020.8" dy="4.67">Popular Option. Some Luthiers Shave This</tspan><tspan x="1020.8" dy="4.67">Block or Angle It Away From The Top As</tspan><tspan x="1020.8" dy="4.67">This Block Often Gives A Guitar A "Hump"</tspan><tspan x="1020.8" dy="4.67">In The Top And Can Cause Cracking</tspan></text>
<text x="826.7" y="250.14999999999998" font-family="Liberation Sans" font-size="4.1" font-style="italic" font-weight="normal" fill="#7a7a7a" text-anchor="start" ><tspan x="826.7" dy="0">Back Braces - Vertical Grain Minimum 20 Grain/in.</tspan><tspan x="826.7" dy="4.65">Ceder Or Spruce #1 Quality. Cope Out Ends Of</tspan><tspan x="826.7" dy="4.65">Bracing.</tspan></text>
<text x="826.7" y="269.15" font-family="Liberation Sans" font-size="4.1" font-style="italic" font-weight="normal" fill="#7a7a7a" text-anchor="start" ><tspan x="826.7" dy="0">Side And Back Material: Many Different Woods Can Be</tspan><tspan x="826.7" dy="4.67">Used. For Bright Tones Go With One Of The</tspan><tspan x="826.7" dy="4.67">Rosewoods Such As Indian Rosewood or Brazilian</tspan><tspan x="826.7" dy="4.67">Rosewood. Koa Is Bright As Is Ziricote And Madagascar</tspan><tspan x="826.7" dy="4.67">Rosewood. For Warm Tone Use Walnut. Most</tspan><tspan x="826.7" dy="4.67">Traditional Acoustic Guitars Are Constructed From</tspan><tspan x="826.7" dy="4.67">Indian Rosewood Or Mahogany</tspan></text>
<rect x="282.7" y="210.8" width="73.80000000000001" height="15.8" fill="#e1e1e1" stroke="none" stroke-width="0.6" rx="0" />
<text x="317.2" y="220.6" font-family="Liberation Sans" font-size="7.95" font-style="normal" font-weight="normal" fill="#2a2a2a" text-anchor="middle" ><tspan x="317.2" dy="0">Fret Spacing</tspan></text>
<rect x="282.7" y="226.6" width="73.80000000000001" height="6.9" fill="#c5d7f2" stroke="none" stroke-width="0.6" rx="0" />
<line x1="282.7" y1="226.6" x2="356.5" y2="226.6" stroke="#999" stroke-width="0.3"/>
<text x="283.3" y="231.6" font-family="Liberation Sans" font-size="4.3" font-style="normal" font-weight="bold" fill="#1a1a3a" text-anchor="start" ><tspan x="283.3" dy="0">Scale Length =</tspan></text>
<text x="331.5" y="231.6" font-family="Liberation Sans" font-size="4.3" font-style="normal" font-weight="bold" fill="#111" text-anchor="end" ><tspan x="331.5" dy="0">25.4</tspan></text>
<text x="350.5" y="231.7" font-family="Liberation Sans" font-size="4.0" font-style="normal" font-weight="normal" fill="#334" text-anchor="end" ><tspan x="350.5" dy="0">645.2</tspan></text>
<rect x="282.7" y="233.5" width="73.80000000000001" height="6.8" fill="#fde2c4" stroke="none" stroke-width="0.6" rx="0" />
<text x="331.9" y="238.6" font-family="Liberation Sans" font-size="3.9" font-style="normal" font-weight="normal" fill="#333" text-anchor="end" ><tspan x="331.9" dy="0">Inches</tspan></text>
<text x="356.1" y="238.6" font-family="Liberation Sans" font-size="3.95" font-style="normal" font-weight="normal" fill="#333" text-anchor="end" ><tspan x="356.1" dy="0">Millimeters</tspan></text>
<rect x="282.7" y="240.3" width="33.60000000000002" height="6.295833333333332" fill="#e3e3e3" stroke="none" stroke-width="0.6" rx="0" />
<rect x="316.3" y="240.3" width="16.19999999999999" height="6.295833333333332" fill="#d6edcb" stroke="none" stroke-width="0.6" rx="0" />
<rect x="332.5" y="240.3" width="24.0" height="6.295833333333332" fill="#f3c6df" stroke="none" stroke-width="0.6" rx="0" />
<line x1="282.7" y1="246.29583333333332" x2="356.5" y2="246.29583333333332" stroke="#a8a8a8" stroke-width="0.45"/>
<text x="283.3" y="244.9" font-family="Liberation Sans" font-size="4.3" font-style="italic" font-weight="normal" fill="#333" text-anchor="start" ><tspan x="283.3" dy="0">Nut to Fret 1</tspan></text>
<text x="331.9" y="244.9" font-family="Liberation Sans" font-size="4.3" font-style="normal" font-weight="normal" fill="#333" text-anchor="end" letter-spacing="0.25" ><tspan x="331.9" dy="0">1.426</tspan></text>
<text x="355.9" y="244.9" font-family="Liberation Sans" font-size="4.3" font-style="normal" font-weight="normal" fill="#333" text-anchor="end" letter-spacing="0.25" ><tspan x="355.9" dy="0">36.21</tspan></text>
<rect x="282.7" y="246.59583333333333" width="33.60000000000002" height="6.295833333333332" fill="#e3e3e3" stroke="none" stroke-width="0.6" rx="0" />
<rect x="316.3" y="246.59583333333333" width="16.19999999999999" height="6.295833333333332" fill="#d6edcb" stroke="none" stroke-width="0.6" rx="0" />
<rect x="332.5" y="246.59583333333333" width="24.0" height="6.295833333333332" fill="#f3c6df" stroke="none" stroke-width="0.6" rx="0" />
<line x1="282.7" y1="252.59166666666664" x2="356.5" y2="252.59166666666664" stroke="#a8a8a8" stroke-width="0.45"/>
<text x="283.3" y="251.19583333333333" font-family="Liberation Sans" font-size="4.3" font-style="italic" font-weight="normal" fill="#333" text-anchor="start" ><tspan x="283.3" dy="0">Nut to Fret 2</tspan></text>
<text x="331.9" y="251.19583333333333" font-family="Liberation Sans" font-size="4.3" font-style="normal" font-weight="normal" fill="#333" text-anchor="end" letter-spacing="0.25" ><tspan x="331.9" dy="0">2.771</tspan></text>
<text x="355.9" y="251.19583333333333" font-family="Liberation Sans" font-size="4.3" font-style="normal" font-weight="normal" fill="#333" text-anchor="end" letter-spacing="0.25" ><tspan x="355.9" dy="0">70.39</tspan></text>
<rect x="282.7" y="252.89166666666668" width="33.60000000000002" height="6.295833333333332" fill="#e3e3e3" stroke="none" stroke-width="0.6" rx="0" />
<rect x="316.3" y="252.89166666666668" width="16.19999999999999" height="6.295833333333332" fill="#d6edcb" stroke="none" stroke-width="0.6" rx="0" />
<rect x="332.5" y="252.89166666666668" width="24.0" height="6.295833333333332" fill="#f3c6df" stroke="none" stroke-width="0.6" rx="0" />
<line x1="282.7" y1="258.8875" x2="356.5" y2="258.8875" stroke="#a8a8a8" stroke-width="0.45"/>
<text x="283.3" y="257.4916666666667" font-family="Liberation Sans" font-size="4.3" font-style="italic" font-weight="normal" fill="#333" text-anchor="start" ><tspan x="283.3" dy="0">Nut to Fret 3</tspan></text>
<text x="331.9" y="257.4916666666667" font-family="Liberation Sans" font-size="4.3" font-style="normal" font-weight="normal" fill="#333" text-anchor="end" letter-spacing="0.25" ><tspan x="331.9" dy="0">4.041</tspan></text>
<text x="355.9" y="257.4916666666667" font-family="Liberation Sans" font-size="4.3" font-style="normal" font-weight="normal" fill="#333" text-anchor="end" letter-spacing="0.25" ><tspan x="355.9" dy="0">102.65</tspan></text>
<rect x="282.7" y="259.1875" width="33.60000000000002" height="6.295833333333332" fill="#e3e3e3" stroke="none" stroke-width="0.6" rx="0" />
<rect x="316.3" y="259.1875" width="16.19999999999999" height="6.295833333333332" fill="#d6edcb" stroke="none" stroke-width="0.6" rx="0" />
<rect x="332.5" y="259.1875" width="24.0" height="6.295833333333332" fill="#f3c6df" stroke="none" stroke-width="0.6" rx="0" />
<line x1="282.7" y1="265.18333333333334" x2="356.5" y2="265.18333333333334" stroke="#a8a8a8" stroke-width="0.45"/>
<text x="283.3" y="263.7875" font-family="Liberation Sans" font-size="4.3" font-style="italic" font-weight="normal" fill="#333" text-anchor="start" ><tspan x="283.3" dy="0">Nut to Fret 4</tspan></text>
<text x="331.9" y="263.7875" font-family="Liberation Sans" font-size="4.3" font-style="normal" font-weight="normal" fill="#333" text-anchor="end" letter-spacing="0.25" ><tspan x="331.9" dy="0">5.240</tspan></text>
<text x="355.9" y="263.7875" font-family="Liberation Sans" font-size="4.3" font-style="normal" font-weight="normal" fill="#333" text-anchor="end" letter-spacing="0.25" ><tspan x="355.9" dy="0">133.10</tspan></text>
<rect x="282.7" y="265.48333333333335" width="33.60000000000002" height="6.295833333333332" fill="#e3e3e3" stroke="none" stroke-width="0.6" rx="0" />
<rect x="316.3" y="265.48333333333335" width="16.19999999999999" height="6.295833333333332" fill="#d6edcb" stroke="none" stroke-width="0.6" rx="0" />
<rect x="332.5" y="265.48333333333335" width="24.0" height="6.295833333333332" fill="#f3c6df" stroke="none" stroke-width="0.6" rx="0" />
<line x1="282.7" y1="271.4791666666667" x2="356.5" y2="271.4791666666667" stroke="#a8a8a8" stroke-width="0.45"/>
<text x="283.3" y="270.08333333333337" font-family="Liberation Sans" font-size="4.3" font-style="italic" font-weight="normal" fill="#333" text-anchor="start" ><tspan x="283.3" dy="0">Nut to Fret 5</tspan></text>
<text x="331.9" y="270.08333333333337" font-family="Liberation Sans" font-size="4.3" font-style="normal" font-weight="normal" fill="#333" text-anchor="end" letter-spacing="0.25" ><tspan x="331.9" dy="0">6.372</tspan></text>
<text x="355.9" y="270.08333333333337" font-family="Liberation Sans" font-size="4.3" font-style="normal" font-weight="normal" fill="#333" text-anchor="end" letter-spacing="0.25" ><tspan x="355.9" dy="0">161.84</tspan></text>
<rect x="282.7" y="271.7791666666667" width="33.60000000000002" height="6.295833333333332" fill="#e3e3e3" stroke="none" stroke-width="0.6" rx="0" />
<rect x="316.3" y="271.7791666666667" width="16.19999999999999" height="6.295833333333332" fill="#d6edcb" stroke="none" stroke-width="0.6" rx="0" />
<rect x="332.5" y="271.7791666666667" width="24.0" height="6.295833333333332" fill="#f3c6df" stroke="none" stroke-width="0.6" rx="0" />
<line x1="282.7" y1="277.77500000000003" x2="356.5" y2="277.77500000000003" stroke="#a8a8a8" stroke-width="0.45"/>
<text x="283.3" y="276.3791666666667" font-family="Liberation Sans" font-size="4.3" font-style="italic" font-weight="normal" fill="#333" text-anchor="start" ><tspan x="283.3" dy="0">Nut to Fret 6</tspan></text>
<text x="331.9" y="276.3791666666667" font-family="Liberation Sans" font-size="4.3" font-style="normal" font-weight="normal" fill="#333" text-anchor="end" letter-spacing="0.25" ><tspan x="331.9" dy="0">7.439</tspan></text>
<text x="355.9" y="276.3791666666667" font-family="Liberation Sans" font-size="4.3" font-style="normal" font-weight="normal" fill="#333" text-anchor="end" letter-spacing="0.25" ><tspan x="355.9" dy="0">188.96</tspan></text>
<rect x="282.7" y="278.075" width="33.60000000000002" height="6.295833333333332" fill="#e3e3e3" stroke="none" stroke-width="0.6" rx="0" />
<rect x="316.3" y="278.075" width="16.19999999999999" height="6.295833333333332" fill="#d6edcb" stroke="none" stroke-width="0.6" rx="0" />
<rect x="332.5" y="278.075" width="24.0" height="6.295833333333332" fill="#f3c6df" stroke="none" stroke-width="0.6" rx="0" />
<line x1="282.7" y1="284.0708333333333" x2="356.5" y2="284.0708333333333" stroke="#a8a8a8" stroke-width="0.45"/>
<text x="283.3" y="282.675" font-family="Liberation Sans" font-size="4.3" font-style="italic" font-weight="normal" fill="#333" text-anchor="start" ><tspan x="283.3" dy="0">Nut to Fret 7</tspan></text>
<text x="331.9" y="282.675" font-family="Liberation Sans" font-size="4.3" font-style="normal" font-weight="normal" fill="#333" text-anchor="end" letter-spacing="0.25" ><tspan x="331.9" dy="0">8.448</tspan></text>
<text x="355.9" y="282.675" font-family="Liberation Sans" font-size="4.3" font-style="normal" font-weight="normal" fill="#333" text-anchor="end" letter-spacing="0.25" ><tspan x="355.9" dy="0">214.57</tspan></text>
<rect x="282.7" y="284.37083333333334" width="33.60000000000002" height="6.295833333333332" fill="#e3e3e3" stroke="none" stroke-width="0.6" rx="0" />
<rect x="316.3" y="284.37083333333334" width="16.19999999999999" height="6.295833333333332" fill="#d6edcb" stroke="none" stroke-width="0.6" rx="0" />
<rect x="332.5" y="284.37083333333334" width="24.0" height="6.295833333333332" fill="#f3c6df" stroke="none" stroke-width="0.6" rx="0" />
<line x1="282.7" y1="290.3666666666667" x2="356.5" y2="290.3666666666667" stroke="#a8a8a8" stroke-width="0.45"/>
<text x="283.3" y="288.97083333333336" font-family="Liberation Sans" font-size="4.3" font-style="italic" font-weight="normal" fill="#333" text-anchor="start" ><tspan x="283.3" dy="0">Nut to Fret 8</tspan></text>
<text x="331.9" y="288.97083333333336" font-family="Liberation Sans" font-size="4.3" font-style="normal" font-weight="normal" fill="#333" text-anchor="end" letter-spacing="0.25" ><tspan x="331.9" dy="0">9.399</tspan></text>
<text x="355.9" y="288.97083333333336" font-family="Liberation Sans" font-size="4.3" font-style="normal" font-weight="normal" fill="#333" text-anchor="end" letter-spacing="0.25" ><tspan x="355.9" dy="0">238.73</tspan></text>
<rect x="282.7" y="290.6666666666667" width="33.60000000000002" height="6.295833333333332" fill="#e3e3e3" stroke="none" stroke-width="0.6" rx="0" />
<rect x="316.3" y="290.6666666666667" width="16.19999999999999" height="6.295833333333332" fill="#d6edcb" stroke="none" stroke-width="0.6" rx="0" />
<rect x="332.5" y="290.6666666666667" width="24.0" height="6.295833333333332" fill="#f3c6df" stroke="none" stroke-width="0.6" rx="0" />
<line x1="282.7" y1="296.6625" x2="356.5" y2="296.6625" stroke="#a8a8a8" stroke-width="0.45"/>
<text x="283.3" y="295.2666666666667" font-family="Liberation Sans" font-size="4.3" font-style="italic" font-weight="normal" fill="#333" text-anchor="start" ><tspan x="283.3" dy="0">Nut to Fret 9</tspan></text>
<text x="331.9" y="295.2666666666667" font-family="Liberation Sans" font-size="4.3" font-style="normal" font-weight="normal" fill="#333" text-anchor="end" letter-spacing="0.25" ><tspan x="331.9" dy="0">10.297</tspan></text>
<text x="355.9" y="295.2666666666667" font-family="Liberation Sans" font-size="4.3" font-style="normal" font-weight="normal" fill="#333" text-anchor="end" letter-spacing="0.25" ><tspan x="355.9" dy="0">261.55</tspan></text>
<rect x="282.7" y="296.9625" width="33.60000000000002" height="6.295833333333332" fill="#e3e3e3" stroke="none" stroke-width="0.6" rx="0" />
<rect x="316.3" y="296.9625" width="16.19999999999999" height="6.295833333333332" fill="#d6edcb" stroke="none" stroke-width="0.6" rx="0" />
<rect x="332.5" y="296.9625" width="24.0" height="6.295833333333332" fill="#f3c6df" stroke="none" stroke-width="0.6" rx="0" />
<line x1="282.7" y1="302.9583333333333" x2="356.5" y2="302.9583333333333" stroke="#a8a8a8" stroke-width="0.45"/>
<text x="283.3" y="301.5625" font-family="Liberation Sans" font-size="4.3" font-style="italic" font-weight="normal" fill="#333" text-anchor="start" ><tspan x="283.3" dy="0">Nut to Fret 10</tspan></text>
<text x="331.9" y="301.5625" font-family="Liberation Sans" font-size="4.3" font-style="normal" font-weight="normal" fill="#333" text-anchor="end" letter-spacing="0.25" ><tspan x="331.9" dy="0">11.145</tspan></text>
<text x="355.9" y="301.5625" font-family="Liberation Sans" font-size="4.3" font-style="normal" font-weight="normal" fill="#333" text-anchor="end" letter-spacing="0.25" ><tspan x="355.9" dy="0">283.08</tspan></text>
<rect x="282.7" y="303.2583333333333" width="33.60000000000002" height="6.295833333333332" fill="#e3e3e3" stroke="none" stroke-width="0.6" rx="0" />
<rect x="316.3" y="303.2583333333333" width="16.19999999999999" height="6.295833333333332" fill="#d6edcb" stroke="none" stroke-width="0.6" rx="0" />
<rect x="332.5" y="303.2583333333333" width="24.0" height="6.295833333333332" fill="#f3c6df" stroke="none" stroke-width="0.6" rx="0" />
<line x1="282.7" y1="309.25416666666666" x2="356.5" y2="309.25416666666666" stroke="#a8a8a8" stroke-width="0.45"/>
<text x="283.3" y="307.85833333333335" font-family="Liberation Sans" font-size="4.3" font-style="italic" font-weight="normal" fill="#333" text-anchor="start" ><tspan x="283.3" dy="0">Nut to Fret 11</tspan></text>
<text x="331.9" y="307.85833333333335" font-family="Liberation Sans" font-size="4.3" font-style="normal" font-weight="normal" fill="#333" text-anchor="end" letter-spacing="0.25" ><tspan x="331.9" dy="0">11.945</tspan></text>
<text x="355.9" y="307.85833333333335" font-family="Liberation Sans" font-size="4.3" font-style="normal" font-weight="normal" fill="#333" text-anchor="end" letter-spacing="0.25" ><tspan x="355.9" dy="0">303.40</tspan></text>
<rect x="282.7" y="309.5541666666667" width="33.60000000000002" height="6.295833333333332" fill="#e3e3e3" stroke="none" stroke-width="0.6" rx="0" />
<rect x="316.3" y="309.5541666666667" width="16.19999999999999" height="6.295833333333332" fill="#d6edcb" stroke="none" stroke-width="0.6" rx="0" />
<rect x="332.5" y="309.5541666666667" width="24.0" height="6.295833333333332" fill="#f3c6df" stroke="none" stroke-width="0.6" rx="0" />
<line x1="282.7" y1="315.55" x2="356.5" y2="315.55" stroke="#a8a8a8" stroke-width="0.45"/>
<text x="283.3" y="314.1541666666667" font-family="Liberation Sans" font-size="4.3" font-style="italic" font-weight="normal" fill="#333" text-anchor="start" ><tspan x="283.3" dy="0">Nut to Fret 12</tspan></text>
<text x="331.9" y="314.1541666666667" font-family="Liberation Sans" font-size="4.3" font-style="normal" font-weight="normal" fill="#333" text-anchor="end" letter-spacing="0.25" ><tspan x="331.9" dy="0">12.700</tspan></text>
<text x="355.9" y="314.1541666666667" font-family="Liberation Sans" font-size="4.3" font-style="normal" font-weight="normal" fill="#333" text-anchor="end" letter-spacing="0.25" ><tspan x="355.9" dy="0">322.58</tspan></text>
<rect x="282.7" y="315.85" width="33.60000000000002" height="6.295833333333332" fill="#e3e3e3" stroke="none" stroke-width="0.6" rx="0" />
<rect x="316.3" y="315.85" width="16.19999999999999" height="6.295833333333332" fill="#d6edcb" stroke="none" stroke-width="0.6" rx="0" />
<rect x="332.5" y="315.85" width="24.0" height="6.295833333333332" fill="#f3c6df" stroke="none" stroke-width="0.6" rx="0" />
<line x1="282.7" y1="321.84583333333336" x2="356.5" y2="321.84583333333336" stroke="#a8a8a8" stroke-width="0.45"/>
<text x="283.3" y="320.45000000000005" font-family="Liberation Sans" font-size="4.3" font-style="italic" font-weight="normal" fill="#333" text-anchor="start" ><tspan x="283.3" dy="0">Nut to Fret 13</tspan></text>
<text x="331.9" y="320.45000000000005" font-family="Liberation Sans" font-size="4.3" font-style="normal" font-weight="normal" fill="#333" text-anchor="end" letter-spacing="0.25" ><tspan x="331.9" dy="0">13.413</tspan></text>
<text x="355.9" y="320.45000000000005" font-family="Liberation Sans" font-size="4.3" font-style="normal" font-weight="normal" fill="#333" text-anchor="end" letter-spacing="0.25" ><tspan x="355.9" dy="0">340.69</tspan></text>
<rect x="282.7" y="322.1458333333333" width="33.60000000000002" height="6.295833333333332" fill="#e3e3e3" stroke="none" stroke-width="0.6" rx="0" />
<rect x="316.3" y="322.1458333333333" width="16.19999999999999" height="6.295833333333332" fill="#d6edcb" stroke="none" stroke-width="0.6" rx="0" />
<rect x="332.5" y="322.1458333333333" width="24.0" height="6.295833333333332" fill="#f3c6df" stroke="none" stroke-width="0.6" rx="0" />
<line x1="282.7" y1="328.14166666666665" x2="356.5" y2="328.14166666666665" stroke="#a8a8a8" stroke-width="0.45"/>
<text x="283.3" y="326.74583333333334" font-family="Liberation Sans" font-size="4.3" font-style="italic" font-weight="normal" fill="#333" text-anchor="start" ><tspan x="283.3" dy="0">Nut to Fret 14</tspan></text>
<text x="331.9" y="326.74583333333334" font-family="Liberation Sans" font-size="4.3" font-style="normal" font-weight="normal" fill="#333" text-anchor="end" letter-spacing="0.25" ><tspan x="331.9" dy="0">14.086</tspan></text>
<text x="355.9" y="326.74583333333334" font-family="Liberation Sans" font-size="4.3" font-style="normal" font-weight="normal" fill="#333" text-anchor="end" letter-spacing="0.25" ><tspan x="355.9" dy="0">357.77</tspan></text>
<rect x="282.7" y="328.44166666666666" width="33.60000000000002" height="6.295833333333332" fill="#e3e3e3" stroke="none" stroke-width="0.6" rx="0" />
<rect x="316.3" y="328.44166666666666" width="16.19999999999999" height="6.295833333333332" fill="#d6edcb" stroke="none" stroke-width="0.6" rx="0" />
<rect x="332.5" y="328.44166666666666" width="24.0" height="6.295833333333332" fill="#f3c6df" stroke="none" stroke-width="0.6" rx="0" />
<line x1="282.7" y1="334.4375" x2="356.5" y2="334.4375" stroke="#a8a8a8" stroke-width="0.45"/>
<text x="283.3" y="333.0416666666667" font-family="Liberation Sans" font-size="4.3" font-style="italic" font-weight="normal" fill="#333" text-anchor="start" ><tspan x="283.3" dy="0">Nut to Fret 15</tspan></text>
<text x="331.9" y="333.0416666666667" font-family="Liberation Sans" font-size="4.3" font-style="normal" font-weight="normal" fill="#333" text-anchor="end" letter-spacing="0.25" ><tspan x="331.9" dy="0">14.721</tspan></text>
<text x="355.9" y="333.0416666666667" font-family="Liberation Sans" font-size="4.3" font-style="normal" font-weight="normal" fill="#333" text-anchor="end" letter-spacing="0.25" ><tspan x="355.9" dy="0">373.90</tspan></text>
<rect x="282.7" y="334.73749999999995" width="33.60000000000002" height="6.295833333333332" fill="#e3e3e3" stroke="none" stroke-width="0.6" rx="0" />
<rect x="316.3" y="334.73749999999995" width="16.19999999999999" height="6.295833333333332" fill="#d6edcb" stroke="none" stroke-width="0.6" rx="0" />
<rect x="332.5" y="334.73749999999995" width="24.0" height="6.295833333333332" fill="#f3c6df" stroke="none" stroke-width="0.6" rx="0" />
<line x1="282.7" y1="340.7333333333333" x2="356.5" y2="340.7333333333333" stroke="#a8a8a8" stroke-width="0.45"/>
<text x="283.3" y="339.3375" font-family="Liberation Sans" font-size="4.3" font-style="italic" font-weight="normal" fill="#333" text-anchor="start" ><tspan x="283.3" dy="0">Nut to Fret 16</tspan></text>
<text x="331.9" y="339.3375" font-family="Liberation Sans" font-size="4.3" font-style="normal" font-weight="normal" fill="#333" text-anchor="end" letter-spacing="0.25" ><tspan x="331.9" dy="0">15.320</tspan></text>
<text x="355.9" y="339.3375" font-family="Liberation Sans" font-size="4.3" font-style="normal" font-weight="normal" fill="#333" text-anchor="end" letter-spacing="0.25" ><tspan x="355.9" dy="0">389.13</tspan></text>
<rect x="282.7" y="341.0333333333333" width="33.60000000000002" height="6.295833333333332" fill="#e3e3e3" stroke="none" stroke-width="0.6" rx="0" />
<rect x="316.3" y="341.0333333333333" width="16.19999999999999" height="6.295833333333332" fill="#d6edcb" stroke="none" stroke-width="0.6" rx="0" />
<rect x="332.5" y="341.0333333333333" width="24.0" height="6.295833333333332" fill="#f3c6df" stroke="none" stroke-width="0.6" rx="0" />
<line x1="282.7" y1="347.02916666666664" x2="356.5" y2="347.02916666666664" stroke="#a8a8a8" stroke-width="0.45"/>
<text x="283.3" y="345.6333333333333" font-family="Liberation Sans" font-size="4.3" font-style="italic" font-weight="normal" fill="#333" text-anchor="start" ><tspan x="283.3" dy="0">Nut to Fret 17</tspan></text>
<text x="331.9" y="345.6333333333333" font-family="Liberation Sans" font-size="4.3" font-style="normal" font-weight="normal" fill="#333" text-anchor="end" letter-spacing="0.25" ><tspan x="331.9" dy="0">15.886</tspan></text>
<text x="355.9" y="345.6333333333333" font-family="Liberation Sans" font-size="4.3" font-style="normal" font-weight="normal" fill="#333" text-anchor="end" letter-spacing="0.25" ><tspan x="355.9" dy="0">403.50</tspan></text>
<rect x="282.7" y="347.32916666666665" width="33.60000000000002" height="6.295833333333332" fill="#e3e3e3" stroke="none" stroke-width="0.6" rx="0" />
<rect x="316.3" y="347.32916666666665" width="16.19999999999999" height="6.295833333333332" fill="#d6edcb" stroke="none" stroke-width="0.6" rx="0" />
<rect x="332.5" y="347.32916666666665" width="24.0" height="6.295833333333332" fill="#f3c6df" stroke="none" stroke-width="0.6" rx="0" />
<line x1="282.7" y1="353.325" x2="356.5" y2="353.325" stroke="#a8a8a8" stroke-width="0.45"/>
<text x="283.3" y="351.9291666666667" font-family="Liberation Sans" font-size="4.3" font-style="italic" font-weight="normal" fill="#333" text-anchor="start" ><tspan x="283.3" dy="0">Nut to Fret 18</tspan></text>
<text x="331.9" y="351.9291666666667" font-family="Liberation Sans" font-size="4.3" font-style="normal" font-weight="normal" fill="#333" text-anchor="end" letter-spacing="0.25" ><tspan x="331.9" dy="0">16.420</tspan></text>
<text x="355.9" y="351.9291666666667" font-family="Liberation Sans" font-size="4.3" font-style="normal" font-weight="normal" fill="#333" text-anchor="end" letter-spacing="0.25" ><tspan x="355.9" dy="0">417.06</tspan></text>
<rect x="282.7" y="353.625" width="33.60000000000002" height="6.295833333333332" fill="#e3e3e3" stroke="none" stroke-width="0.6" rx="0" />
<rect x="316.3" y="353.625" width="16.19999999999999" height="6.295833333333332" fill="#d6edcb" stroke="none" stroke-width="0.6" rx="0" />
<rect x="332.5" y="353.625" width="24.0" height="6.295833333333332" fill="#f3c6df" stroke="none" stroke-width="0.6" rx="0" />
<line x1="282.7" y1="359.62083333333334" x2="356.5" y2="359.62083333333334" stroke="#a8a8a8" stroke-width="0.45"/>
<text x="283.3" y="358.225" font-family="Liberation Sans" font-size="4.3" font-style="italic" font-weight="normal" fill="#333" text-anchor="start" ><tspan x="283.3" dy="0">Nut to Fret 19</tspan></text>
<text x="331.9" y="358.225" font-family="Liberation Sans" font-size="4.3" font-style="normal" font-weight="normal" fill="#333" text-anchor="end" letter-spacing="0.25" ><tspan x="331.9" dy="0">16.924</tspan></text>
<text x="355.9" y="358.225" font-family="Liberation Sans" font-size="4.3" font-style="normal" font-weight="normal" fill="#333" text-anchor="end" letter-spacing="0.25" ><tspan x="355.9" dy="0">429.86</tspan></text>
<rect x="282.7" y="359.9208333333333" width="33.60000000000002" height="6.295833333333332" fill="#e3e3e3" stroke="none" stroke-width="0.6" rx="0" />
<rect x="316.3" y="359.9208333333333" width="16.19999999999999" height="6.295833333333332" fill="#d6edcb" stroke="none" stroke-width="0.6" rx="0" />
<rect x="332.5" y="359.9208333333333" width="24.0" height="6.295833333333332" fill="#f3c6df" stroke="none" stroke-width="0.6" rx="0" />
<line x1="282.7" y1="365.91666666666663" x2="356.5" y2="365.91666666666663" stroke="#a8a8a8" stroke-width="0.45"/>
<text x="283.3" y="364.5208333333333" font-family="Liberation Sans" font-size="4.3" font-style="italic" font-weight="normal" fill="#333" text-anchor="start" ><tspan x="283.3" dy="0">Nut to Fret 20</tspan></text>
<text x="331.9" y="364.5208333333333" font-family="Liberation Sans" font-size="4.3" font-style="normal" font-weight="normal" fill="#333" text-anchor="end" letter-spacing="0.25" ><tspan x="331.9" dy="0">17.400</tspan></text>
<text x="355.9" y="364.5208333333333" font-family="Liberation Sans" font-size="4.3" font-style="normal" font-weight="normal" fill="#333" text-anchor="end" letter-spacing="0.25" ><tspan x="355.9" dy="0">441.95</tspan></text>
<rect x="282.7" y="366.21666666666664" width="33.60000000000002" height="6.295833333333332" fill="#e3e3e3" stroke="none" stroke-width="0.6" rx="0" />
<rect x="316.3" y="366.21666666666664" width="16.19999999999999" height="6.295833333333332" fill="#d6edcb" stroke="none" stroke-width="0.6" rx="0" />
<rect x="332.5" y="366.21666666666664" width="24.0" height="6.295833333333332" fill="#f3c6df" stroke="none" stroke-width="0.6" rx="0" />
<line x1="282.7" y1="372.2125" x2="356.5" y2="372.2125" stroke="#a8a8a8" stroke-width="0.45"/>
<text x="283.3" y="370.81666666666666" font-family="Liberation Sans" font-size="4.3" font-style="italic" font-weight="normal" fill="#333" text-anchor="start" ><tspan x="283.3" dy="0">Nut to Fret 21</tspan></text>
<text x="331.9" y="370.81666666666666" font-family="Liberation Sans" font-size="4.3" font-style="normal" font-weight="normal" fill="#333" text-anchor="end" letter-spacing="0.25" ><tspan x="331.9" dy="0">17.849</tspan></text>
<text x="355.9" y="370.81666666666666" font-family="Liberation Sans" font-size="4.3" font-style="normal" font-weight="normal" fill="#333" text-anchor="end" letter-spacing="0.25" ><tspan x="355.9" dy="0">453.35</tspan></text>
<rect x="282.7" y="372.5125" width="33.60000000000002" height="6.295833333333332" fill="#e3e3e3" stroke="none" stroke-width="0.6" rx="0" />
<rect x="316.3" y="372.5125" width="16.19999999999999" height="6.295833333333332" fill="#d6edcb" stroke="none" stroke-width="0.6" rx="0" />
<rect x="332.5" y="372.5125" width="24.0" height="6.295833333333332" fill="#f3c6df" stroke="none" stroke-width="0.6" rx="0" />
<line x1="282.7" y1="378.5083333333333" x2="356.5" y2="378.5083333333333" stroke="#a8a8a8" stroke-width="0.45"/>
<text x="283.3" y="377.1125" font-family="Liberation Sans" font-size="4.3" font-style="italic" font-weight="normal" fill="#333" text-anchor="start" ><tspan x="283.3" dy="0">Nut to Fret 22</tspan></text>
<text x="331.9" y="377.1125" font-family="Liberation Sans" font-size="4.3" font-style="normal" font-weight="normal" fill="#333" text-anchor="end" letter-spacing="0.25" ><tspan x="331.9" dy="0">18.272</tspan></text>
<text x="355.9" y="377.1125" font-family="Liberation Sans" font-size="4.3" font-style="normal" font-weight="normal" fill="#333" text-anchor="end" letter-spacing="0.25" ><tspan x="355.9" dy="0">464.12</tspan></text>
<rect x="282.7" y="378.8083333333333" width="33.60000000000002" height="6.295833333333332" fill="#e3e3e3" stroke="none" stroke-width="0.6" rx="0" />
<rect x="316.3" y="378.8083333333333" width="16.19999999999999" height="6.295833333333332" fill="#d6edcb" stroke="none" stroke-width="0.6" rx="0" />
<rect x="332.5" y="378.8083333333333" width="24.0" height="6.295833333333332" fill="#f3c6df" stroke="none" stroke-width="0.6" rx="0" />
<line x1="282.7" y1="384.8041666666666" x2="356.5" y2="384.8041666666666" stroke="#a8a8a8" stroke-width="0.45"/>
<text x="283.3" y="383.4083333333333" font-family="Liberation Sans" font-size="4.3" font-style="italic" font-weight="normal" fill="#333" text-anchor="start" ><tspan x="283.3" dy="0">Nut to Fret 23</tspan></text>
<text x="331.9" y="383.4083333333333" font-family="Liberation Sans" font-size="4.3" font-style="normal" font-weight="normal" fill="#333" text-anchor="end" letter-spacing="0.25" ><tspan x="331.9" dy="0">18.672</tspan></text>
<text x="355.9" y="383.4083333333333" font-family="Liberation Sans" font-size="4.3" font-style="normal" font-weight="normal" fill="#333" text-anchor="end" letter-spacing="0.25" ><tspan x="355.9" dy="0">474.28</tspan></text>
<rect x="282.7" y="385.10416666666663" width="33.60000000000002" height="6.295833333333332" fill="#e3e3e3" stroke="none" stroke-width="0.6" rx="0" />
<rect x="316.3" y="385.10416666666663" width="16.19999999999999" height="6.295833333333332" fill="#d6edcb" stroke="none" stroke-width="0.6" rx="0" />
<rect x="332.5" y="385.10416666666663" width="24.0" height="6.295833333333332" fill="#f3c6df" stroke="none" stroke-width="0.6" rx="0" />
<line x1="282.7" y1="391.09999999999997" x2="356.5" y2="391.09999999999997" stroke="#a8a8a8" stroke-width="0.45"/>
<text x="283.3" y="389.70416666666665" font-family="Liberation Sans" font-size="4.3" font-style="italic" font-weight="normal" fill="#333" text-anchor="start" ><tspan x="283.3" dy="0">Nut to Fret 24</tspan></text>
<text x="331.9" y="389.70416666666665" font-family="Liberation Sans" font-size="4.3" font-style="normal" font-weight="normal" fill="#333" text-anchor="end" letter-spacing="0.25" ><tspan x="331.9" dy="0">19.050</tspan></text>
<text x="355.9" y="389.70416666666665" font-family="Liberation Sans" font-size="4.3" font-style="normal" font-weight="normal" fill="#333" text-anchor="end" letter-spacing="0.25" ><tspan x="355.9" dy="0">483.87</tspan></text>
<line x1="316.3" y1="233.5" x2="316.3" y2="391.4" stroke="#999" stroke-width="0.4"/>
<line x1="332.5" y1="226.6" x2="332.5" y2="391.4" stroke="#999" stroke-width="0.4"/>
<line x1="282.7" y1="226.6" x2="282.7" y2="391.4" stroke="#aaa" stroke-width="0.4"/>
<g transform="translate(118,276) scale(0.14376)">
<defs><clipPath id="pc"><rect x="30" y="40" width="1045" height="775"/></clipPath><linearGradient id="bg1" x1="0" y1="0" x2="1" y2="1"><stop offset="0" stop-color="#3b3b3b"/><stop offset="0.5" stop-color="#4a4a4a"/><stop offset="1" stop-color="#3a3a3a"/></linearGradient><linearGradient id="side1" x1="0" y1="0" x2="0" y2="1"><stop offset="0" stop-color="#3a3a3a"/><stop offset="1" stop-color="#262626"/></linearGradient><linearGradient id="top1" x1="0" y1="0" x2="1" y2="1"><stop offset="0" stop-color="#f3f3f3"/><stop offset="1" stop-color="#dcdcdc"/></linearGradient></defs>
<g clip-path="url(#pc)">
<rect x="30" y="40" width="1045" height="775" fill="url(#bg1)" stroke="none" stroke-width="0.6" rx="0" />
<linearGradient id="tbl" x1="0" y1="0" x2="0" y2="1"><stop offset="0" stop-color="#555"/><stop offset="0.5" stop-color="#6a6a6a"/><stop offset="1" stop-color="#626262"/></linearGradient>
<path d="M30,150 L46,235 L70,273 L127,310 L155,339 L155,451 L174,555 L230,649 L296,724 L372,815 L30,815 Z" stroke="none" stroke-width="0" fill="url(#tbl)" />
<path d="M46,235 L70,273 L127,310 L155,339 L155,451 L174,555 L230,649 L296,724 L372,815 L1075,815 L1075,350 L700,600 L300,500 L160,300 Z" stroke="none" stroke-width="0" fill="url(#side1)" />
<path d="M330,660 C450,730 700,730 1060,550" stroke="#3c3c3c" stroke-width="4" fill="none" />
<path d="M340,677 C450,747 700,747 1060,567" stroke="#3c3c3c" stroke-width="4" fill="none" />
<path d="M350,694 C450,764 700,764 1060,584" stroke="#3c3c3c" stroke-width="4" fill="none" />
<path d="M360,711 C450,781 700,781 1060,601" stroke="#3c3c3c" stroke-width="4" fill="none" />
<path d="M370,728 C450,798 700,798 1060,618" stroke="#3c3c3c" stroke-width="4" fill="none" />
<path d="M380,745 C450,815 700,815 1060,635" stroke="#3c3c3c" stroke-width="4" fill="none" />
<path d="M390,762 C450,832 700,832 1060,652" stroke="#3c3c3c" stroke-width="4" fill="none" />
<path d="M40,220 C60,160 140,125 220,100 C300,70 380,50 450,58 C520,68 560,100 650,112 C760,125 880,140 960,180 C1040,230 1080,320 1072,410 C1060,500 980,560 880,610 C760,670 640,715 500,708 C380,700 260,650 190,580 C150,530 145,460 160,400 C170,340 160,300 120,270 C80,255 45,250 40,220 Z" stroke="none" stroke-width="0" fill="#cdcdcd" />
<path d="M62,222 C80,180 150,150 230,125 C310,95 390,75 455,82 C520,92 565,120 650,133 C760,147 870,160 945,200 C1015,245 1050,320 1045,400 C1035,480 965,535 870,585 C760,640 640,680 500,676 C390,672 285,630 220,570 C180,525 175,465 190,405 C200,345 185,300 145,275 C100,255 65,250 62,222 Z" stroke="none" stroke-width="0" fill="#565656" />
<path d="M175,340 C200,290 250,250 330,210 C400,185 470,190 520,235 C580,270 660,278 760,290 C860,300 930,320 960,380 C985,440 950,500 880,555 C780,615 650,655 510,660 C400,660 300,625 240,575 C200,535 185,480 180,420 Z" stroke="none" stroke-width="0" fill="url(#top1)" />
<path d="M165,420 C170,380 175,350 190,330 L240,330 C215,400 215,480 245,580 L220,570 C185,530 168,480 165,420 Z" stroke="none" stroke-width="0" fill="#a8a8a8" />
<line x1="330" y1="100" x2="330" y2="190" stroke="#8a8a8a" stroke-width="5"/>
<line x1="400" y1="88" x2="400" y2="185" stroke="#8a8a8a" stroke-width="5"/>
<line x1="480" y1="85" x2="480" y2="200" stroke="#8a8a8a" stroke-width="5"/>
<line x1="580" y1="120" x2="580" y2="255" stroke="#8a8a8a" stroke-width="5"/>
<line x1="650" y1="128" x2="650" y2="270" stroke="#8a8a8a" stroke-width="5"/>
<line x1="730" y1="140" x2="730" y2="285" stroke="#8a8a8a" stroke-width="5"/>
<line x1="860" y1="160" x2="860" y2="300" stroke="#8a8a8a" stroke-width="5"/>
<line x1="980" y1="230" x2="980" y2="390" stroke="#8a8a8a" stroke-width="5"/>
<path d="M300,120 C450,90 560,150 700,160 C850,175 950,200 1000,260" stroke="#4a4a4a" stroke-width="3" fill="none" />
<path d="M300,145 C450,112 560,175 700,185 C850,200 950,230 1000,290" stroke="#4a4a4a" stroke-width="3" fill="none" />
<path d="M300,170 C450,134 560,200 700,210 C850,225 950,260 1000,320" stroke="#4a4a4a" stroke-width="3" fill="none" />
<path d="M300,195 C450,156 560,225 700,235 C850,250 950,290 1000,350" stroke="#4a4a4a" stroke-width="3" fill="none" />
<path d="M300,220 C450,178 560,250 700,260 C850,275 950,320 1000,380" stroke="#4a4a4a" stroke-width="3" fill="none" />
<path d="M190,122 L290,98 L300,228 L212,262 Z" stroke="#888" stroke-width="3" fill="#bdbdbd" />
<circle cx="272" cy="168" r="7" fill="#333" stroke="none" stroke-width="0.6"/>
<circle cx="282" cy="215" r="7" fill="#333" stroke="none" stroke-width="0.6"/>
<ellipse cx="385" cy="325" rx="76" ry="42" fill="#5a5a5a" stroke="#cfcfcf" stroke-width="4"/>
<path d="M445,548 C470,480 560,410 690,383 C660,440 580,510 470,552 Z" stroke="#777" stroke-width="2" fill="#5c5c5c" />
<path d="M425,680 L500,200 L520,205 L445,680 Z" stroke="none" stroke-width="0" fill="#d2d2d2" />
<line x1="445" y1="680" x2="520" y2="205" stroke="#888" stroke-width="3"/>
<path d="M205,385 L950,368 L955,385 L210,400 Z" stroke="none" stroke-width="0" fill="#d4d4d4" />
<line x1="210" y1="400" x2="955" y2="385" stroke="#999" stroke-width="3"/>
<path d="M465,562 L965,438 L975,455 L470,578 Z" stroke="none" stroke-width="0" fill="#cfcfcf" />
<line x1="470" y1="578" x2="975" y2="455" stroke="#999" stroke-width="3"/>
<path d="M430,660 L900,540 L905,555 L440,675 Z" stroke="none" stroke-width="0" fill="#d0d0d0" />
<path d="M230,455 L445,455 L445,470 L230,470 Z" stroke="none" stroke-width="0" fill="#cfcfcf" />
<path d="M240,540 L440,545 L440,560 L240,555 Z" stroke="none" stroke-width="0" fill="#d0d0d0" />
<path d="M200,590 C300,660 420,700 520,705 C650,700 760,660 880,610" stroke="#9a9a9a" stroke-width="8" fill="none" stroke-dasharray="6,10"/>
<path d="M880,560 L990,470 L1010,490 L900,585 Z" stroke="none" stroke-width="0" fill="#bbbbbb" />
<line x1="840" y1="40" x2="900" y2="130" stroke="#cfcfcf" stroke-width="5"/>
</g>
<rect x="30" y="40" width="1045" height="775" fill="none" stroke="#222" stroke-width="4" rx="0" />
</g>
<text x="383.1" y="358.6" font-family="Liberation Sans" font-size="22.1" font-style="italic" font-weight="normal" fill="#1a1a1a" text-anchor="start" ><tspan x="383.1" dy="0">Longitudinal Section</tspan></text>
<line x1="382" y1="363.4" x2="582.6" y2="363.4" stroke="#222" stroke-width="1.0"/>
<text x="230.6" y="709.1" font-family="Liberation Sans" font-size="22.0" font-style="italic" font-weight="normal" fill="#1a1a1a" text-anchor="start" ><tspan x="230.6" dy="0">Lateral Section</tspan></text>
<line x1="229.5" y1="714.4" x2="377.5" y2="714.4" stroke="#222" stroke-width="1.0"/>
<rect x="749.3" y="344.3" width="2.8" height="99.5" fill="#d8d8d8" stroke="#3c3c3c" stroke-width="0.6" rx="0" />
<path d="M752,362 L796,362 Q802,362 802,368 L802,420 Q802,426.3 796,426.3 L752,426.3" stroke="#3c3c3c" stroke-width="0.7" fill="none" />
<path d="M753,366 C770,364 785,368 800,366" stroke="#cfcfcf" stroke-width="0.4" fill="none" />
<path d="M753,373 C770,371 785,375 800,373" stroke="#cfcfcf" stroke-width="0.4" fill="none" />
<path d="M753,380 C770,378 785,382 800,380" stroke="#cfcfcf" stroke-width="0.4" fill="none" />
<path d="M753,387 C770,385 785,389 800,387" stroke="#cfcfcf" stroke-width="0.4" fill="none" />
<path d="M753,394 C770,392 785,396 800,394" stroke="#cfcfcf" stroke-width="0.4" fill="none" />
<path d="M753,401 C770,399 785,403 800,401" stroke="#cfcfcf" stroke-width="0.4" fill="none" />
<path d="M753,408 C770,406 785,410 800,408" stroke="#cfcfcf" stroke-width="0.4" fill="none" />
<path d="M753,415 C770,413 785,417 800,415" stroke="#cfcfcf" stroke-width="0.4" fill="none" />
<path d="M753,422 C770,420 785,424 800,422" stroke="#cfcfcf" stroke-width="0.4" fill="none" />
<path d="M749.3,380 C738,381 730,388 726.3,394 C730,400 738,407 749.3,408" stroke="#3c3c3c" stroke-width="0.7" fill="none" />
<line x1="752" y1="380" x2="775" y2="380" stroke="#777" stroke-width="0.4"/>
<line x1="752" y1="408" x2="775" y2="408" stroke="#777" stroke-width="0.4"/>
<line x1="775" y1="380" x2="775" y2="408" stroke="#777" stroke-width="0.4"/>
<rect x="762" y="391.5" width="40" height="4.5" fill="#cfcfcf" stroke="#444" stroke-width="0.4" rx="0" />
<rect x="796" y="388.5" width="5" height="10" fill="#ddd" stroke="#444" stroke-width="0.4" rx="0" />
<line x1="764" y1="391.5" x2="764" y2="396" stroke="#777" stroke-width="0.3"/>
<line x1="767" y1="391.5" x2="767" y2="396" stroke="#777" stroke-width="0.3"/>
<line x1="770" y1="391.5" x2="770" y2="396" stroke="#777" stroke-width="0.3"/>
<line x1="773" y1="391.5" x2="773" y2="396" stroke="#777" stroke-width="0.3"/>
<line x1="776" y1="391.5" x2="776" y2="396" stroke="#777" stroke-width="0.3"/>
<line x1="779" y1="391.5" x2="779" y2="396" stroke="#777" stroke-width="0.3"/>
<line x1="782" y1="391.5" x2="782" y2="396" stroke="#777" stroke-width="0.3"/>
<line x1="785" y1="391.5" x2="785" y2="396" stroke="#777" stroke-width="0.3"/>
<line x1="788" y1="391.5" x2="788" y2="396" stroke="#777" stroke-width="0.3"/>
<line x1="791" y1="391.5" x2="791" y2="396" stroke="#777" stroke-width="0.3"/>
<line x1="716" y1="393.8" x2="842" y2="393.8" stroke="#9a9a9a" stroke-width="0.35" stroke-dasharray="3,1.5"/>
<circle cx="749.3" cy="355" r="0.9" fill="#111" stroke="none" stroke-width="0.6"/>
<circle cx="756" cy="367.5" r="0.9" fill="#111" stroke="none" stroke-width="0.6"/>
<circle cx="739.5" cy="386.5" r="0.9" fill="#111" stroke="none" stroke-width="0.6"/>
<circle cx="759.5" cy="393.8" r="0.9" fill="#111" stroke="none" stroke-width="0.6"/>
<circle cx="743.5" cy="411" r="0.9" fill="#111" stroke="none" stroke-width="0.6"/>
<circle cx="785" cy="384" r="0.9" fill="#111" stroke="none" stroke-width="0.6"/>
<circle cx="785" cy="403.5" r="0.9" fill="#111" stroke="none" stroke-width="0.6"/>
<circle cx="797" cy="380" r="0.9" fill="#111" stroke="none" stroke-width="0.6"/>
<circle cx="797" cy="408" r="0.9" fill="#111" stroke="none" stroke-width="0.6"/>
<line x1="802" y1="362" x2="824" y2="362" stroke="#9a9a9a" stroke-width="0.35"/>
<line x1="802" y1="426.3" x2="824" y2="426.3" stroke="#9a9a9a" stroke-width="0.35"/>
<line x1="821.3" y1="362" x2="821.3" y2="426.3" stroke="#555" stroke-width="0.45"/>
<circle cx="821.3" cy="362" r="0.9" fill="#111" stroke="none" stroke-width="0.6"/>
<circle cx="821.3" cy="426.3" r="0.9" fill="#111" stroke="none" stroke-width="0.6"/>
<line x1="726.3" y1="410" x2="726.3" y2="462" stroke="#9a9a9a" stroke-width="0.35"/>
<line x1="749.3" y1="410" x2="749.3" y2="462" stroke="#9a9a9a" stroke-width="0.35"/>
<line x1="752" y1="410" x2="752" y2="462" stroke="#9a9a9a" stroke-width="0.35"/>
<line x1="775" y1="410" x2="775" y2="462" stroke="#9a9a9a" stroke-width="0.35"/>
<line x1="802" y1="410" x2="802" y2="462" stroke="#9a9a9a" stroke-width="0.35"/>
<line x1="726.3" y1="450" x2="802" y2="450" stroke="#555" stroke-width="0.45"/>
<circle cx="726.3" cy="450" r="0.9" fill="#111" stroke="none" stroke-width="0.6"/>
<circle cx="749.3" cy="450" r="0.9" fill="#111" stroke="none" stroke-width="0.6"/>
<circle cx="775" cy="450" r="0.9" fill="#111" stroke="none" stroke-width="0.6"/>
<circle cx="802" cy="450" r="0.9" fill="#111" stroke="none" stroke-width="0.6"/>
<line x1="749.3" y1="461.3" x2="802" y2="461.3" stroke="#555" stroke-width="0.45"/>
<circle cx="749.3" cy="461.3" r="0.9" fill="#111" stroke="none" stroke-width="0.6"/>
<circle cx="802" cy="461.3" r="0.9" fill="#111" stroke="none" stroke-width="0.6"/>
<line x1="664" y1="355.5" x2="748" y2="355.5" stroke="#9a9a9a" stroke-width="0.35"/>
<line x1="722" y1="367.5" x2="755" y2="367.5" stroke="#9a9a9a" stroke-width="0.35"/>
<line x1="722" y1="388" x2="739" y2="386.5" stroke="#9a9a9a" stroke-width="0.35"/>
<line x1="680" y1="402.3" x2="745" y2="397" stroke="#9a9a9a" stroke-width="0.35"/>
<line x1="730" y1="414" x2="743" y2="411" stroke="#9a9a9a" stroke-width="0.35"/>
<text x="638" y="356.95" font-family="Liberation Sans" font-size="4.1" font-style="italic" font-weight="normal" fill="#7a7a7a" text-anchor="start" ><tspan x="638" dy="0">Guitar Sides</tspan></text>
<text x="638" y="366.45" font-family="Liberation Sans" font-size="4.1" font-style="italic" font-weight="normal" fill="#7a7a7a" text-anchor="start" ><tspan x="638" dy="0">Guitar Neck Block. Vertical Grain Honduras</tspan><tspan x="638" dy="4.5">Mahogany.</tspan></text>
<text x="638" y="380.75" font-family="Liberation Sans" font-size="4.1" font-style="italic" font-weight="normal" fill="#7a7a7a" text-anchor="start" ><tspan x="638" dy="0">Neck Heel: Same Wood As Neck. This Is The</tspan><tspan x="638" dy="4.6">Contour At The Narrow Point Of The Heel. Quite</tspan><tspan x="638" dy="4.6">Often This Contour Changes Depending On</tspan><tspan x="638" dy="4.6">Luthier Construction Method.</tspan></text>
<text x="638" y="403.75" font-family="Liberation Sans" font-size="4.1" font-style="italic" font-weight="normal" fill="#7a7a7a" text-anchor="start" ><tspan x="638" dy="0">Bolt-On Neck Option</tspan></text>
<text x="638" y="413.25" font-family="Liberation Sans" font-size="4.1" font-style="italic" font-weight="normal" fill="#7a7a7a" text-anchor="start" ><tspan x="638" dy="0">Dashed Lines Indicate Outline Of Heel At Back Or</tspan><tspan x="638" dy="4.5">Bottom Of Heel.</tspan></text>
<text x="773.8" y="473.3" font-family="Liberation Sans" font-size="8.4" font-style="italic" font-weight="normal" fill="#4a4a4a" text-anchor="middle" ><tspan x="773.8" dy="0">Neck Section At Narrow</tspan></text>
<text x="773.8" y="482.8" font-family="Liberation Sans" font-size="8.4" font-style="italic" font-weight="normal" fill="#4a4a4a" text-anchor="middle" ><tspan x="773.8" dy="0">Point Of Heel</tspan></text>
<rect x="758.8" y="539.3" width="51.7" height="5.2" fill="#6e6e6e" stroke="#333" stroke-width="0.6" rx="1" />
<path d="M759.5,544.5 C760,556 775,561.5 784.6,561.5 C795,561.5 809.5,556 810,544.5" stroke="#3c3c3c" stroke-width="0.7" fill="#f3f3f3" />
<line x1="764.0" y1="545" x2="764.5" y2="558" stroke="#d0d0d0" stroke-width="0.35"/>
<line x1="767.8" y1="545" x2="768.3" y2="558" stroke="#d0d0d0" stroke-width="0.35"/>
<line x1="771.6" y1="545" x2="772.1" y2="558" stroke="#d0d0d0" stroke-width="0.35"/>
<line x1="775.4" y1="545" x2="775.9" y2="558" stroke="#d0d0d0" stroke-width="0.35"/>
<line x1="779.2" y1="545" x2="779.7" y2="558" stroke="#d0d0d0" stroke-width="0.35"/>
<line x1="783.0" y1="545" x2="783.5" y2="558" stroke="#d0d0d0" stroke-width="0.35"/>
<line x1="786.8" y1="545" x2="787.3" y2="558" stroke="#d0d0d0" stroke-width="0.35"/>
<line x1="790.6" y1="545" x2="791.1" y2="558" stroke="#d0d0d0" stroke-width="0.35"/>
<line x1="794.4" y1="545" x2="794.9" y2="558" stroke="#d0d0d0" stroke-width="0.35"/>
<line x1="798.2" y1="545" x2="798.7" y2="558" stroke="#d0d0d0" stroke-width="0.35"/>
<line x1="802.0" y1="545" x2="802.5" y2="558" stroke="#d0d0d0" stroke-width="0.35"/>
<line x1="805.8" y1="545" x2="806.3" y2="558" stroke="#d0d0d0" stroke-width="0.35"/>
<circle cx="784.6" cy="548.5" r="2.2" fill="#fff" stroke="#444" stroke-width="0.4"/>
<circle cx="779" cy="548.5" r="0.9" fill="#111" stroke="none" stroke-width="0.6"/>
<circle cx="790" cy="548.5" r="0.9" fill="#111" stroke="none" stroke-width="0.6"/>
<circle cx="761" cy="537" r="0.9" fill="#111" stroke="none" stroke-width="0.6"/>
<circle cx="797" cy="537" r="0.9" fill="#111" stroke="none" stroke-width="0.6"/>
<circle cx="808" cy="538.3" r="1.2" fill="#111" stroke="none" stroke-width="0.6"/>
<line x1="775" y1="537" x2="775" y2="532" stroke="#9a9a9a" stroke-width="0.35"/>
<line x1="787" y1="537" x2="787" y2="532" stroke="#9a9a9a" stroke-width="0.35"/>
<circle cx="781" cy="533" r="0.9" fill="#111" stroke="none" stroke-width="0.6"/>
<circle cx="787" cy="533" r="0.9" fill="#111" stroke="none" stroke-width="0.6"/>
<line x1="748" y1="545" x2="748" y2="556" stroke="#9a9a9a" stroke-width="0.4"/>
<circle cx="748" cy="545" r="0.9" fill="#111" stroke="none" stroke-width="0.6"/>
<circle cx="748" cy="556" r="0.9" fill="#111" stroke="none" stroke-width="0.6"/>
<line x1="748" y1="545" x2="759" y2="545" stroke="#9a9a9a" stroke-width="0.3"/>
<line x1="748" y1="556" x2="762" y2="556" stroke="#9a9a9a" stroke-width="0.3"/>
<line x1="737" y1="512.5" x2="760" y2="538" stroke="#9a9a9a" stroke-width="0.35"/>
<line x1="722" y1="534" x2="758" y2="541" stroke="#9a9a9a" stroke-width="0.35"/>
<line x1="797" y1="537" x2="797" y2="514" stroke="#9a9a9a" stroke-width="0.35"/>
<line x1="797" y1="514" x2="824" y2="514" stroke="#9a9a9a" stroke-width="0.35"/>
<line x1="808" y1="536" x2="808" y2="532" stroke="#9a9a9a" stroke-width="0.35"/>
<line x1="808" y1="532" x2="824" y2="532" stroke="#9a9a9a" stroke-width="0.35"/>
<line x1="810" y1="551" x2="824" y2="553" stroke="#9a9a9a" stroke-width="0.35"/>
<text x="648" y="507.75" font-family="Liberation Sans" font-size="4.1" font-style="italic" font-weight="normal" fill="#7a7a7a" text-anchor="start" ><tspan x="648" dy="0">When Fretting An Bound Fingerboard Cut Back</tspan><tspan x="648" dy="4.5">Tang Of Frets To Back Side Of Purfling.</tspan></text>
<text x="648" y="530.95" font-family="Liberation Sans" font-size="4.1" font-style="italic" font-weight="normal" fill="#7a7a7a" text-anchor="start" ><tspan x="648" dy="0">Rout a .218" x .437" (5.54mm x 11.1mm)</tspan><tspan x="648" dy="4.6">Channel To Receive The Double Action</tspan><tspan x="648" dy="4.6">Adjustable Truss Rod Mechanism.</tspan></text>
<text x="826.3" y="513.45" font-family="Liberation Sans" font-size="4.1" font-style="italic" font-weight="normal" fill="#7a7a7a" text-anchor="start" ><tspan x="826.3" dy="0">Solid Ebony Fretboard or Indian</tspan><tspan x="826.3" dy="4.3">Rosewood.</tspan></text>
<text x="826.3" y="527.75" font-family="Liberation Sans" font-size="4.1" font-style="italic" font-weight="normal" fill="#7a7a7a" text-anchor="start" ><tspan x="826.3" dy="0">If The Fretboard Is To Be Bound With</tspan><tspan x="826.3" dy="4.6">Purfling, Use Wood Veneer With</tspan><tspan x="826.3" dy="4.6">Multi-Layer Colored Banding Such As</tspan><tspan x="826.3" dy="4.6">Rosewood, Maple, Ebony Etc.</tspan></text>
<text x="826.3" y="550.95" font-family="Liberation Sans" font-size="4.1" font-style="italic" font-weight="normal" fill="#7a7a7a" text-anchor="start" ><tspan x="826.3" dy="0">This Neck Detail Indicates The Use</tspan><tspan x="826.3" dy="4.62">Of A Double-Action Adjustable Truss</tspan><tspan x="826.3" dy="4.62">Rod. Verify All Dimensions With The</tspan><tspan x="826.3" dy="4.62">Actual Truss Rod Prior To Routing</tspan><tspan x="826.3" dy="4.62">The Neck For the Truss Rod.</tspan></text>
<text x="784.3" y="571.8" font-family="Liberation Sans" font-size="8.4" font-style="italic" font-weight="normal" fill="#4a4a4a" text-anchor="middle" ><tspan x="784.3" dy="0">Neck Section At 7th</tspan></text>
<text x="784.3" y="581" font-family="Liberation Sans" font-size="8.4" font-style="italic" font-weight="normal" fill="#4a4a4a" text-anchor="middle" ><tspan x="784.3" dy="0">Fret</tspan></text>
<text x="708.8" y="601.3" font-family="Liberation Sans" font-size="8.35" font-style="italic" font-weight="normal" fill="#4a4a4a" text-anchor="start" ><tspan x="708.8" dy="0">Adjustable Truss Rod Installation Notes</tspan></text>
<line x1="708.5" y1="603.4" x2="854" y2="603.4" stroke="#555" stroke-width="0.7"/>
<text x="640.8" y="609.25" font-family="Liberation Sans" font-size="4.15" font-style="italic" font-weight="normal" fill="#7a7a7a" text-anchor="start" ><tspan x="640.8" dy="0">The acoustic guitar version can be installed for</tspan><tspan x="640.8" dy="4.7">adjustment at the peghead or the neck heel. For</tspan><tspan x="640.8" dy="4.7">heel-adjustable installation, the neck block must be</tspan><tspan x="640.8" dy="4.7">notched or drilled to access the adjustment nut. The</tspan><tspan x="640.8" dy="4.7">truss rod is not designed to extend into the neck</tspan><tspan x="640.8" dy="4.7">block or beyond the neck. This allows neck removal</tspan><tspan x="640.8" dy="4.7">as per a normal dovetail neck reset.</tspan><tspan x="640.8" dy="9.4">To install the "spoke nut" truss rod, counterbore a</tspan><tspan x="640.8" dy="4.7">-3/8"-diameter hole 3/4" deep to accept the shank</tspan><tspan x="640.8" dy="4.7">of the adjustment nut. Allow at least 1/16" clearance</tspan><tspan x="640.8" dy="4.7">between both flat sides of the spoke nut and the</tspan><tspan x="640.8" dy="4.7">guitar's neck heel and neck/body cutout. This will</tspan><tspan x="640.8" dy="4.7">prevent the nut from binding on these surfaces as it</tspan><tspan x="640.8" dy="4.7">is adjusted. A 1/4" x 5/8" access rout in the</tspan><tspan x="640.8" dy="4.7">instrument's pickguard/top and the neck/body</tspan><tspan x="640.8" dy="4.7">cutout is required.</tspan></text>
<text x="739.5" y="609.25" font-family="Liberation Sans" font-size="4.15" font-style="italic" font-weight="normal" fill="#7a7a7a" text-anchor="start" ><tspan x="739.5" dy="0">Set the truss rod into the slot. Although the rods</tspan><tspan x="739.5" dy="4.7">are cushioned with PVC tubing, we recommend</tspan><tspan x="739.5" dy="4.7">extra cushioning at the nuts to eliminate the</tspan><tspan x="739.5" dy="4.7">possibility of rod rattle. Apply a small amount of</tspan><tspan x="739.5" dy="4.7">silicone bathtub sealer in the slot at the double</tspan><tspan x="739.5" dy="4.7">nuts, then press the rod as deeply into the slot</tspan><tspan x="739.5" dy="4.7">as possible. Use only enough silicone for</tspan><tspan x="739.5" dy="4.7">minimal squeeze-out. A spot or two along the</tspan><tspan x="739.5" dy="4.7">double rods can also be cushioned by a little</tspan><tspan x="739.5" dy="4.7">sealer.</tspan><tspan x="739.5" dy="9.4">The absence of glue in the neck slot will ensure</tspan><tspan x="739.5" dy="4.7">that the truss rod can be removed without</tspan><tspan x="739.5" dy="4.7">"hanging up." Therefore, it's essential to avoid</tspan><tspan x="739.5" dy="4.7">excess glue while installing the fingerboard. We</tspan><tspan x="739.5" dy="4.7">suggest placing 3/4"-wide masking tape down</tspan><tspan x="739.5" dy="4.7">the centerline of the neck, over the installed</tspan><tspan x="739.5" dy="4.7">truss rod.</tspan></text>
<text x="830" y="609.25" font-family="Liberation Sans" font-size="4.15" font-style="italic" font-weight="normal" fill="#7a7a7a" text-anchor="start" ><tspan x="830" dy="0">Spread the glue over the neck with a notched glue</tspan><tspan x="830" dy="4.7">spreader. Remove the tape and clamp the</tspan><tspan x="830" dy="4.7">fingerboard in place. You'll notice a small area on</tspan><tspan x="830" dy="4.7">each side of the truss rod that has no glue, but if</tspan><tspan x="830" dy="4.7">done properly, the glue will spread just to the edges</tspan><tspan x="830" dy="4.7">of the slot and not beyond.</tspan><tspan x="830" dy="9.4">After the glue has dried thoroughly, the rod can be</tspan><tspan x="830" dy="4.7">tested and used with care. Turn the rod clockwise</tspan><tspan x="830" dy="4.7">to correct an upbow, and counterclockwise to</tspan><tspan x="830" dy="4.7">correct backbow. As with any truss rod, if you</tspan><tspan x="830" dy="4.7">encounter excessive resistance, the neck should</tspan><tspan x="830" dy="4.7">first be eased into a corrective bend with clamps.</tspan><tspan x="830" dy="4.7">The rod can then be adjusted.</tspan></text>
<defs><pattern id="hatch" width="1.9" height="1.9" patternUnits="userSpaceOnUse" patternTransform="rotate(25)"><line x1="0" y1="0" x2="0" y2="1.9" stroke="#a8a8a8" stroke-width="0.4"/></pattern></defs>
<line x1="127" y1="523.3" x2="510" y2="523.3" stroke="#3c3c3c" stroke-width="0.9"/>
<line x1="129" y1="526.3" x2="508" y2="526.3" stroke="#3c3c3c" stroke-width="0.6"/>
<rect x="127" y="523.3" width="383" height="3" fill="#e6e6e6" stroke="none" stroke-width="0.6" rx="0" />
<line x1="127" y1="522.5" x2="127" y2="624" stroke="#3c3c3c" stroke-width="0.9"/>
<line x1="129.2" y1="526" x2="129.2" y2="622" stroke="#666" stroke-width="0.5"/>
<line x1="510" y1="523.3" x2="510" y2="623" stroke="#3c3c3c" stroke-width="0.9"/>
<line x1="507.8" y1="526" x2="507.8" y2="621" stroke="#666" stroke-width="0.5"/>
<path d="M127,623.7 Q318.7,631 510,622.5" stroke="#3c3c3c" stroke-width="1.0" fill="none" />
<path d="M129,621.5 Q318.7,628.7 508,620.5" stroke="#666" stroke-width="0.5" fill="none" />
<polygon points="129.2,526.3 134.2,526.3 129.2,538.3" stroke="#333" stroke-width="0.4" fill="#6f6f6f"/>
<polygon points="129.2,611.7 129.2,622 134.2,622" stroke="#333" stroke-width="0.4" fill="#6f6f6f"/>
<clipPath id="hct1"><path d="M130.2,527.4 L147.2,527.6 C153.2,528.5 156.2,531 159.2,533.5 L157.2,541.7 L130.2,541.7 Z"/></clipPath>
<g clip-path="url(#hct1)">
<line x1="119.2" y1="542" x2="126.2" y2="527" stroke="#a5a5a5" stroke-width="0.35"/>
<line x1="121.7" y1="542" x2="128.7" y2="527" stroke="#a5a5a5" stroke-width="0.35"/>
<line x1="124.2" y1="542" x2="131.2" y2="527" stroke="#a5a5a5" stroke-width="0.35"/>
<line x1="126.7" y1="542" x2="133.7" y2="527" stroke="#a5a5a5" stroke-width="0.35"/>
<line x1="129.2" y1="542" x2="136.2" y2="527" stroke="#a5a5a5" stroke-width="0.35"/>
<line x1="131.7" y1="542" x2="138.7" y2="527" stroke="#a5a5a5" stroke-width="0.35"/>
<line x1="134.2" y1="542" x2="141.2" y2="527" stroke="#a5a5a5" stroke-width="0.35"/>
<line x1="136.7" y1="542" x2="143.7" y2="527" stroke="#a5a5a5" stroke-width="0.35"/>
<line x1="139.2" y1="542" x2="146.2" y2="527" stroke="#a5a5a5" stroke-width="0.35"/>
<line x1="141.7" y1="542" x2="148.7" y2="527" stroke="#a5a5a5" stroke-width="0.35"/>
<line x1="144.2" y1="542" x2="151.2" y2="527" stroke="#a5a5a5" stroke-width="0.35"/>
<line x1="146.7" y1="542" x2="153.7" y2="527" stroke="#a5a5a5" stroke-width="0.35"/>
<line x1="149.2" y1="542" x2="156.2" y2="527" stroke="#a5a5a5" stroke-width="0.35"/>
<line x1="151.7" y1="542" x2="158.7" y2="527" stroke="#a5a5a5" stroke-width="0.35"/>
<line x1="154.2" y1="542" x2="161.2" y2="527" stroke="#a5a5a5" stroke-width="0.35"/>
<line x1="156.7" y1="542" x2="163.7" y2="527" stroke="#a5a5a5" stroke-width="0.35"/>
<line x1="159.2" y1="542" x2="166.2" y2="527" stroke="#a5a5a5" stroke-width="0.35"/>
<line x1="161.7" y1="542" x2="168.7" y2="527" stroke="#a5a5a5" stroke-width="0.35"/>
<line x1="164.2" y1="542" x2="171.2" y2="527" stroke="#a5a5a5" stroke-width="0.35"/>
<line x1="166.7" y1="542" x2="173.7" y2="527" stroke="#a5a5a5" stroke-width="0.35"/>
<line x1="169.2" y1="542" x2="176.2" y2="527" stroke="#a5a5a5" stroke-width="0.35"/>
</g>
<path d="M130.2,527.4 L147.2,527.6 C153.2,528.5 156.2,531 159.2,533.5 L157.2,541.7 L130.2,541.7 Z" stroke="#999" stroke-width="0.35" fill="none" />
<clipPath id="hcb1"><path d="M130.2,620.3 L147.2,619.6 C153.2,618 156.2,615 159.2,612 L157.2,603.3 L130.2,603.3 Z"/></clipPath>
<g clip-path="url(#hcb1)">
<line x1="119.2" y1="621" x2="126.2" y2="603" stroke="#a5a5a5" stroke-width="0.35"/>
<line x1="121.7" y1="621" x2="128.7" y2="603" stroke="#a5a5a5" stroke-width="0.35"/>
<line x1="124.2" y1="621" x2="131.2" y2="603" stroke="#a5a5a5" stroke-width="0.35"/>
<line x1="126.7" y1="621" x2="133.7" y2="603" stroke="#a5a5a5" stroke-width="0.35"/>
<line x1="129.2" y1="621" x2="136.2" y2="603" stroke="#a5a5a5" stroke-width="0.35"/>
<line x1="131.7" y1="621" x2="138.7" y2="603" stroke="#a5a5a5" stroke-width="0.35"/>
<line x1="134.2" y1="621" x2="141.2" y2="603" stroke="#a5a5a5" stroke-width="0.35"/>
<line x1="136.7" y1="621" x2="143.7" y2="603" stroke="#a5a5a5" stroke-width="0.35"/>
<line x1="139.2" y1="621" x2="146.2" y2="603" stroke="#a5a5a5" stroke-width="0.35"/>
<line x1="141.7" y1="621" x2="148.7" y2="603" stroke="#a5a5a5" stroke-width="0.35"/>
<line x1="144.2" y1="621" x2="151.2" y2="603" stroke="#a5a5a5" stroke-width="0.35"/>
<line x1="146.7" y1="621" x2="153.7" y2="603" stroke="#a5a5a5" stroke-width="0.35"/>
<line x1="149.2" y1="621" x2="156.2" y2="603" stroke="#a5a5a5" stroke-width="0.35"/>
<line x1="151.7" y1="621" x2="158.7" y2="603" stroke="#a5a5a5" stroke-width="0.35"/>
<line x1="154.2" y1="621" x2="161.2" y2="603" stroke="#a5a5a5" stroke-width="0.35"/>
<line x1="156.7" y1="621" x2="163.7" y2="603" stroke="#a5a5a5" stroke-width="0.35"/>
<line x1="159.2" y1="621" x2="166.2" y2="603" stroke="#a5a5a5" stroke-width="0.35"/>
<line x1="161.7" y1="621" x2="168.7" y2="603" stroke="#a5a5a5" stroke-width="0.35"/>
<line x1="164.2" y1="621" x2="171.2" y2="603" stroke="#a5a5a5" stroke-width="0.35"/>
<line x1="166.7" y1="621" x2="173.7" y2="603" stroke="#a5a5a5" stroke-width="0.35"/>
<line x1="169.2" y1="621" x2="176.2" y2="603" stroke="#a5a5a5" stroke-width="0.35"/>
</g>
<path d="M130.2,620.3 L147.2,619.6 C153.2,618 156.2,615 159.2,612 L157.2,603.3 L130.2,603.3 Z" stroke="#999" stroke-width="0.35" fill="none" />
<path d="M130.7,528 C133.2,560 133.2,590 130.7,620" stroke="#888" stroke-width="0.4" fill="none" />
<polyline points="137.2,541.7 157.2,572 137.2,604.3" stroke="#999" stroke-width="0.35" fill="none"/>
<polygon points="507.8,526.3 502.8,526.3 507.8,538.3" stroke="#333" stroke-width="0.4" fill="#6f6f6f"/>
<polygon points="507.8,611.7 507.8,622 502.8,622" stroke="#333" stroke-width="0.4" fill="#6f6f6f"/>
<clipPath id="hct-1"><path d="M506.8,527.4 L489.8,527.6 C483.8,528.5 480.8,531 477.8,533.5 L479.8,541.7 L506.8,541.7 Z"/></clipPath>
<g clip-path="url(#hct-1)">
<line x1="466.8" y1="542" x2="473.8" y2="527" stroke="#a5a5a5" stroke-width="0.35"/>
<line x1="469.3" y1="542" x2="476.3" y2="527" stroke="#a5a5a5" stroke-width="0.35"/>
<line x1="471.8" y1="542" x2="478.8" y2="527" stroke="#a5a5a5" stroke-width="0.35"/>
<line x1="474.3" y1="542" x2="481.3" y2="527" stroke="#a5a5a5" stroke-width="0.35"/>
<line x1="476.8" y1="542" x2="483.8" y2="527" stroke="#a5a5a5" stroke-width="0.35"/>
<line x1="479.3" y1="542" x2="486.3" y2="527" stroke="#a5a5a5" stroke-width="0.35"/>
<line x1="481.8" y1="542" x2="488.8" y2="527" stroke="#a5a5a5" stroke-width="0.35"/>
<line x1="484.3" y1="542" x2="491.3" y2="527" stroke="#a5a5a5" stroke-width="0.35"/>
<line x1="486.8" y1="542" x2="493.8" y2="527" stroke="#a5a5a5" stroke-width="0.35"/>
<line x1="489.3" y1="542" x2="496.3" y2="527" stroke="#a5a5a5" stroke-width="0.35"/>
<line x1="491.8" y1="542" x2="498.8" y2="527" stroke="#a5a5a5" stroke-width="0.35"/>
<line x1="494.3" y1="542" x2="501.3" y2="527" stroke="#a5a5a5" stroke-width="0.35"/>
<line x1="496.8" y1="542" x2="503.8" y2="527" stroke="#a5a5a5" stroke-width="0.35"/>
<line x1="499.3" y1="542" x2="506.3" y2="527" stroke="#a5a5a5" stroke-width="0.35"/>
<line x1="501.8" y1="542" x2="508.8" y2="527" stroke="#a5a5a5" stroke-width="0.35"/>
<line x1="504.3" y1="542" x2="511.3" y2="527" stroke="#a5a5a5" stroke-width="0.35"/>
<line x1="506.8" y1="542" x2="513.8" y2="527" stroke="#a5a5a5" stroke-width="0.35"/>
<line x1="509.3" y1="542" x2="516.3" y2="527" stroke="#a5a5a5" stroke-width="0.35"/>
<line x1="511.8" y1="542" x2="518.8" y2="527" stroke="#a5a5a5" stroke-width="0.35"/>
<line x1="514.3" y1="542" x2="521.3" y2="527" stroke="#a5a5a5" stroke-width="0.35"/>
<line x1="516.8" y1="542" x2="523.8" y2="527" stroke="#a5a5a5" stroke-width="0.35"/>
</g>
<path d="M506.8,527.4 L489.8,527.6 C483.8,528.5 480.8,531 477.8,533.5 L479.8,541.7 L506.8,541.7 Z" stroke="#999" stroke-width="0.35" fill="none" />
<clipPath id="hcb-1"><path d="M506.8,620.3 L489.8,619.6 C483.8,618 480.8,615 477.8,612 L479.8,603.3 L506.8,603.3 Z"/></clipPath>
<g clip-path="url(#hcb-1)">
<line x1="466.8" y1="621" x2="473.8" y2="603" stroke="#a5a5a5" stroke-width="0.35"/>
<line x1="469.3" y1="621" x2="476.3" y2="603" stroke="#a5a5a5" stroke-width="0.35"/>
<line x1="471.8" y1="621" x2="478.8" y2="603" stroke="#a5a5a5" stroke-width="0.35"/>
<line x1="474.3" y1="621" x2="481.3" y2="603" stroke="#a5a5a5" stroke-width="0.35"/>
<line x1="476.8" y1="621" x2="483.8" y2="603" stroke="#a5a5a5" stroke-width="0.35"/>
<line x1="479.3" y1="621" x2="486.3" y2="603" stroke="#a5a5a5" stroke-width="0.35"/>
<line x1="481.8" y1="621" x2="488.8" y2="603" stroke="#a5a5a5" stroke-width="0.35"/>
<line x1="484.3" y1="621" x2="491.3" y2="603" stroke="#a5a5a5" stroke-width="0.35"/>
<line x1="486.8" y1="621" x2="493.8" y2="603" stroke="#a5a5a5" stroke-width="0.35"/>
<line x1="489.3" y1="621" x2="496.3" y2="603" stroke="#a5a5a5" stroke-width="0.35"/>
<line x1="491.8" y1="621" x2="498.8" y2="603" stroke="#a5a5a5" stroke-width="0.35"/>
<line x1="494.3" y1="621" x2="501.3" y2="603" stroke="#a5a5a5" stroke-width="0.35"/>
<line x1="496.8" y1="621" x2="503.8" y2="603" stroke="#a5a5a5" stroke-width="0.35"/>
<line x1="499.3" y1="621" x2="506.3" y2="603" stroke="#a5a5a5" stroke-width="0.35"/>
<line x1="501.8" y1="621" x2="508.8" y2="603" stroke="#a5a5a5" stroke-width="0.35"/>
<line x1="504.3" y1="621" x2="511.3" y2="603" stroke="#a5a5a5" stroke-width="0.35"/>
<line x1="506.8" y1="621" x2="513.8" y2="603" stroke="#a5a5a5" stroke-width="0.35"/>
<line x1="509.3" y1="621" x2="516.3" y2="603" stroke="#a5a5a5" stroke-width="0.35"/>
<line x1="511.8" y1="621" x2="518.8" y2="603" stroke="#a5a5a5" stroke-width="0.35"/>
<line x1="514.3" y1="621" x2="521.3" y2="603" stroke="#a5a5a5" stroke-width="0.35"/>
<line x1="516.8" y1="621" x2="523.8" y2="603" stroke="#a5a5a5" stroke-width="0.35"/>
</g>
<path d="M506.8,620.3 L489.8,619.6 C483.8,618 480.8,615 477.8,612 L479.8,603.3 L506.8,603.3 Z" stroke="#999" stroke-width="0.35" fill="none" />
<path d="M506.3,528 C503.8,560 503.8,590 506.3,620" stroke="#888" stroke-width="0.4" fill="none" />
<polyline points="499.8,541.7 479.8,572 499.8,604.3" stroke="#999" stroke-width="0.35" fill="none"/>
<line x1="156.7" y1="541.7" x2="286.7" y2="541.7" stroke="#888" stroke-width="0.4"/>
<line x1="156.7" y1="541.7" x2="156.7" y2="603.3" stroke="#888" stroke-width="0.4"/>
<line x1="168" y1="596" x2="505" y2="596" stroke="#888" stroke-width="0.4"/>
<line x1="168" y1="603.3" x2="505" y2="603.3" stroke="#888" stroke-width="0.4"/>
<line x1="168" y1="610" x2="505" y2="610" stroke="#888" stroke-width="0.4"/>
<line x1="400" y1="541.7" x2="480" y2="541.7" stroke="#888" stroke-width="0.4"/>
<line x1="480" y1="541.7" x2="480" y2="603.3" stroke="#888" stroke-width="0.4"/>
<path d="M160,535 C200,530 240,532 280,537 C300,540 310,541 320,540 C340,536 350,533 380,532 C430,531 470,530 490,533" stroke="#888" stroke-width="0.45" fill="none" />
<line x1="287" y1="541.3" x2="480" y2="541.3" stroke="#999" stroke-width="0.35"/>
<path d="M160,597 C220,592 260,590 300,592" stroke="#aaa" stroke-width="0.35" fill="none" />
<line x1="243.0" y1="587" x2="243.0" y2="596" stroke="#aaa" stroke-width="0.35"/>
<line x1="373.0" y1="587" x2="373.0" y2="596" stroke="#bbb" stroke-width="0.35"/>
<line x1="246.7" y1="587" x2="246.7" y2="596" stroke="#aaa" stroke-width="0.35"/>
<line x1="376.7" y1="587" x2="376.7" y2="596" stroke="#bbb" stroke-width="0.35"/>
<line x1="250.4" y1="587" x2="250.4" y2="596" stroke="#aaa" stroke-width="0.35"/>
<line x1="380.4" y1="587" x2="380.4" y2="596" stroke="#bbb" stroke-width="0.35"/>
<line x1="254.1" y1="587" x2="254.1" y2="596" stroke="#aaa" stroke-width="0.35"/>
<line x1="384.1" y1="587" x2="384.1" y2="596" stroke="#bbb" stroke-width="0.35"/>
<line x1="257.8" y1="587" x2="257.8" y2="596" stroke="#aaa" stroke-width="0.35"/>
<line x1="387.8" y1="587" x2="387.8" y2="596" stroke="#bbb" stroke-width="0.35"/>
<line x1="261.5" y1="587" x2="261.5" y2="596" stroke="#aaa" stroke-width="0.35"/>
<line x1="391.5" y1="587" x2="391.5" y2="596" stroke="#bbb" stroke-width="0.35"/>
<line x1="265.2" y1="587" x2="265.2" y2="596" stroke="#aaa" stroke-width="0.35"/>
<line x1="395.2" y1="587" x2="395.2" y2="596" stroke="#bbb" stroke-width="0.35"/>
<line x1="268.9" y1="587" x2="268.9" y2="596" stroke="#aaa" stroke-width="0.35"/>
<line x1="398.9" y1="587" x2="398.9" y2="596" stroke="#bbb" stroke-width="0.35"/>
<line x1="272.6" y1="587" x2="272.6" y2="596" stroke="#aaa" stroke-width="0.35"/>
<line x1="402.6" y1="587" x2="402.6" y2="596" stroke="#bbb" stroke-width="0.35"/>
<line x1="276.3" y1="587" x2="276.3" y2="596" stroke="#aaa" stroke-width="0.35"/>
<line x1="406.3" y1="587" x2="406.3" y2="596" stroke="#bbb" stroke-width="0.35"/>
<line x1="280.0" y1="587" x2="280.0" y2="596" stroke="#aaa" stroke-width="0.35"/>
<line x1="410.0" y1="587" x2="410.0" y2="596" stroke="#bbb" stroke-width="0.35"/>
<line x1="283.7" y1="587" x2="283.7" y2="596" stroke="#aaa" stroke-width="0.35"/>
<line x1="413.7" y1="587" x2="413.7" y2="596" stroke="#bbb" stroke-width="0.35"/>
<line x1="243" y1="587" x2="420" y2="587" stroke="#999" stroke-width="0.35"/>
<path d="M241.7,521.8 C258,520 272,517 284,514.5 C286,512 289,511 292,511.5 L345,511.5 C349,511.5 351,513 352,514.5 C364,517 378,519.5 396,521.8" stroke="#666" stroke-width="0.5" fill="none" />
<circle cx="290.8" cy="512.3" r="2.2" fill="#fafafa" stroke="#aaa" stroke-width="0.35"/>
<path d="M289.2,513 L289.6,546 M292.40000000000003,513 L292.0,546" stroke="#bbb" stroke-width="0.3" fill="none" />
<circle cx="300.5" cy="512.3" r="2.2" fill="#fafafa" stroke="#aaa" stroke-width="0.35"/>
<path d="M298.9,513 L299.3,546 M302.1,513 L301.7,546" stroke="#bbb" stroke-width="0.3" fill="none" />
<circle cx="311" cy="512.3" r="2.2" fill="#fafafa" stroke="#aaa" stroke-width="0.35"/>
<path d="M309.4,513 L309.8,546 M312.6,513 L312.2,546" stroke="#bbb" stroke-width="0.3" fill="none" />
<circle cx="318.5" cy="512.3" r="2.2" fill="#fafafa" stroke="#aaa" stroke-width="0.35"/>
<path d="M316.9,513 L317.3,546 M320.1,513 L319.7,546" stroke="#bbb" stroke-width="0.3" fill="none" />
<circle cx="327.5" cy="512.3" r="2.2" fill="#fafafa" stroke="#aaa" stroke-width="0.35"/>
<path d="M325.9,513 L326.3,546 M329.1,513 L328.7,546" stroke="#bbb" stroke-width="0.3" fill="none" />
<circle cx="335" cy="512.3" r="2.2" fill="#fafafa" stroke="#aaa" stroke-width="0.35"/>
<path d="M333.4,513 L333.8,546 M336.6,513 L336.2,546" stroke="#bbb" stroke-width="0.3" fill="none" />
<circle cx="346.2" cy="512.3" r="2.2" fill="#fafafa" stroke="#aaa" stroke-width="0.35"/>
<path d="M344.59999999999997,513 L345.0,546 M347.8,513 L347.4,546" stroke="#bbb" stroke-width="0.3" fill="none" />
<line x1="282" y1="510" x2="355" y2="510" stroke="#ccc" stroke-width="0.3"/>
<path d="M346.0,526.3 L351.0,526.3 L349.7,533 Q348.5,535.5 347.3,533 Z" stroke="#3c3c3c" stroke-width="0.45" fill="#f0f0f0" />
<path d="M382.7,526.3 L387.7,526.3 L386.4,533 Q385.2,535.5 384.0,533 Z" stroke="#3c3c3c" stroke-width="0.45" fill="#f0f0f0" />
<circle cx="291.5" cy="557.8" r="0.9" fill="#111" stroke="none" stroke-width="0.6"/>
<circle cx="291.5" cy="572.6" r="0.9" fill="#111" stroke="none" stroke-width="0.6"/>
<circle cx="363.5" cy="533.8" r="0.9" fill="#111" stroke="none" stroke-width="0.6"/>
<line x1="255.5" y1="503" x2="291.5" y2="557.8" stroke="#9a9a9a" stroke-width="0.35"/>
<line x1="267.5" y1="549.5" x2="291.5" y2="572.6" stroke="#9a9a9a" stroke-width="0.35"/>
<line x1="323" y1="549.5" x2="377" y2="567.5" stroke="#9a9a9a" stroke-width="0.35"/>
<line x1="363.5" y1="533.8" x2="377" y2="567.5" stroke="#9a9a9a" stroke-width="0.35"/>
<line x1="318.7" y1="446" x2="318.7" y2="650" stroke="#9a9a9a" stroke-width="0.35" stroke-dasharray="2,1.5"/>
<circle cx="318.7" cy="547.5" r="4.8" fill="none" stroke="#aaa" stroke-width="0.4"/>
<circle cx="318.7" cy="547.5" r="2" fill="none" stroke="#aaa" stroke-width="0.4"/>
<circle cx="318.7" cy="579.5" r="6" fill="none" stroke="#aaa" stroke-width="0.4"/>
<circle cx="318.7" cy="579.5" r="2.5" fill="none" stroke="#aaa" stroke-width="0.4"/>
<line x1="290" y1="547.5" x2="345" y2="547.5" stroke="#bbb" stroke-width="0.3"/>
<line x1="290" y1="579.5" x2="345" y2="579.5" stroke="#bbb" stroke-width="0.3"/>
<line x1="287" y1="530" x2="287" y2="620" stroke="#ccc" stroke-width="0.3" stroke-dasharray="1.5,1.5"/>
<line x1="300" y1="530" x2="300" y2="620" stroke="#ccc" stroke-width="0.3" stroke-dasharray="1.5,1.5"/>
<line x1="307" y1="530" x2="307" y2="620" stroke="#ccc" stroke-width="0.3" stroke-dasharray="1.5,1.5"/>
<line x1="331" y1="530" x2="331" y2="620" stroke="#ccc" stroke-width="0.3" stroke-dasharray="1.5,1.5"/>
<line x1="338" y1="530" x2="338" y2="620" stroke="#ccc" stroke-width="0.3" stroke-dasharray="1.5,1.5"/>
<line x1="350" y1="530" x2="350" y2="620" stroke="#ccc" stroke-width="0.3" stroke-dasharray="1.5,1.5"/>
<path d="M311,625.5 L313,624 L324,624 L326,625.5 Z" stroke="#333" stroke-width="0.4" fill="#555" />
<circle cx="318.7" cy="627.5" r="1.1" fill="#111" stroke="none" stroke-width="0.6"/>
<circle cx="275" cy="533" r="0.9" fill="#111" stroke="none" stroke-width="0.6"/>
<circle cx="298.5" cy="623" r="0.9" fill="#111" stroke="none" stroke-width="0.6"/>
<circle cx="385.8" cy="529.7" r="0.9" fill="#111" stroke="none" stroke-width="0.6"/>
<circle cx="477.3" cy="585.6" r="0.9" fill="#111" stroke="none" stroke-width="0.6"/>
<circle cx="505.3" cy="587.3" r="0.9" fill="#111" stroke="none" stroke-width="0.6"/>
<circle cx="511.9" cy="528" r="0.9" fill="#111" stroke="none" stroke-width="0.6"/>
<circle cx="511.9" cy="622" r="0.9" fill="#111" stroke="none" stroke-width="0.6"/>
<circle cx="424.5" cy="626" r="0.9" fill="#111" stroke="none" stroke-width="0.6"/>
<line x1="126.3" y1="523" x2="153" y2="480" stroke="#9a9a9a" stroke-width="0.35"/>
<line x1="126.5" y1="522.5" x2="124" y2="520" stroke="#9a9a9a" stroke-width="0.3"/>
<line x1="190" y1="510" x2="253" y2="541" stroke="#9a9a9a" stroke-width="0.35"/>
<line x1="511" y1="528" x2="540" y2="560" stroke="#9a9a9a" stroke-width="0.35"/>
<line x1="511" y1="621" x2="540" y2="560" stroke="#9a9a9a" stroke-width="0.35"/>
<line x1="465.7" y1="594.7" x2="477.3" y2="585.6" stroke="#9a9a9a" stroke-width="0.35"/>
<line x1="465.7" y1="594.7" x2="505.3" y2="587.3" stroke="#9a9a9a" stroke-width="0.35"/>
<line x1="401" y1="504" x2="423.7" y2="504" stroke="#9a9a9a" stroke-width="0.35"/>
<line x1="423.7" y1="504" x2="424.5" y2="626" stroke="#9a9a9a" stroke-width="0.35"/>
<line x1="432.7" y1="541.7" x2="432.7" y2="607" stroke="#aaa" stroke-width="0.35"/>
<path d="M428,529 C430,560 429,590 433,620" stroke="#aaa" stroke-width="0.35" fill="none" />
<path d="M505,541 C500,560 500,585 506,603" stroke="#777" stroke-width="0.4" fill="none" />
<line x1="480.5" y1="541.5" x2="480.5" y2="602.5" stroke="#999" stroke-width="0.35"/>
<line x1="134" y1="620" x2="160" y2="645" stroke="#9a9a9a" stroke-width="0.35"/>
<line x1="302" y1="623" x2="290" y2="660" stroke="#9a9a9a" stroke-width="0.35"/>
<line x1="318.7" y1="628" x2="290" y2="680" stroke="#9a9a9a" stroke-width="0.3"/>
<line x1="318.7" y1="628" x2="340" y2="650" stroke="#9a9a9a" stroke-width="0.3"/>
<line x1="105" y1="620" x2="125" y2="620" stroke="#9a9a9a" stroke-width="0.35"/>
<circle cx="99.5" cy="621" r="0.9" fill="#111" stroke="none" stroke-width="0.6"/>
<text x="155.7" y="449.45" font-family="Liberation Sans" font-size="4.1" font-style="italic" font-weight="normal" fill="#7a7a7a" text-anchor="start" ><tspan x="155.7" dy="0">Edge Purfling: Solid Wood Is Preferred</tspan><tspan x="155.7" dy="4.67">Over Plastic As Plastic Is An Insulator. The</tspan><tspan x="155.7" dy="4.67">Edges Of The Guitar Need To Be Routed</tspan><tspan x="155.7" dy="4.67">And Stepped To Receive The Levels Of</tspan><tspan x="155.7" dy="4.67">Purfling And Trim. Round The Edges Of All</tspan><tspan x="155.7" dy="4.67">Purflings To Remove All Sharp Edges And</tspan><tspan x="155.7" dy="4.67">Allow Finish To Adhere.</tspan></text>
<text x="180" y="489.75" font-family="Liberation Sans" font-size="4.1" font-style="italic" font-weight="normal" fill="#7a7a7a" text-anchor="start" ><tspan x="180" dy="0">Neck (or Head) Block: This Is A Very</tspan><tspan x="180" dy="4.67">Important Structural Element. Construct</tspan><tspan x="180" dy="4.67">From Vertical Grain Honduras Mahogany,</tspan><tspan x="180" dy="4.67">Maple Or Match Neck Wood. The Block</tspan><tspan x="180" dy="4.67">Shown Here Is For a Bolt-on Neck. See</tspan><tspan x="180" dy="4.67">Template Sheet For Addition Options</tspan></text>
<text x="274" y="466.75" font-family="Liberation Sans" font-size="4.1" font-style="italic" font-weight="normal" fill="#7a7a7a" text-anchor="start" ><tspan x="274" dy="0">Acoustic Guitar Bridges Are Referred To As A Belly</tspan><tspan x="274" dy="4.67">Bridge Because They Have A Rounded Belly</tspan><tspan x="274" dy="4.67">Shape On The Bottom Of The Bridge. Match The</tspan><tspan x="274" dy="4.67">Bridge Wood To The Fretboard Wood - Refer To 2</tspan><tspan x="274" dy="4.67">Styles Included Here Under The Templates Page</tspan><tspan x="274" dy="4.67">Of This Document. Some Guitar Shape Utilize</tspan><tspan x="274" dy="4.67">Different Shaped Bridges Such As The Prism</tspan><tspan x="274" dy="4.67">Bridge or Mustache Bridge.</tspan></text>
<text x="427.7" y="444.75" font-family="Liberation Sans" font-size="4.1" font-style="italic" font-weight="normal" fill="#7a7a7a" text-anchor="start" ><tspan x="427.7" dy="0">Guitar Top Plate: Can Be Built "Level" or "Flat", Which Is Also Much Easier To Build. It is Also</tspan><tspan x="427.7" dy="4.67">A Popular Option To Build An Arch Into The Top By Shaping The Braces With An Arch Shape.</tspan><tspan x="427.7" dy="4.67">This Is A Decision Left Up To Each Individual Luthier.</tspan><tspan x="427.7" dy="9.34">Materials Vary Quite A Bit, But Usually Consist Of Spruce Or Cedar From Many Different</tspan><tspan x="427.7" dy="4.67">Regions. Western Red Cedar And Many Others. Must Be Vertical Grain Wood With Little Run-</tspan><tspan x="427.7" dy="4.67">out, Even Grain Across The Top And 20 Grain/in Minimum. Spruces Can Be Englemann, Sitka</tspan><tspan x="427.7" dy="4.67">Or European. Refer To Our Book on Guitar and Ukulele Construction For More Info.</tspan><tspan x="427.7" dy="9.34">Top Thickness Varies As Well And Is A Function Of Top Stiffness And Wood Density. For</tspan><tspan x="427.7" dy="4.67">Instance Cedar Will Usually Need To Be Slightly Thicker Than Spruce Because The Specific</tspan><tspan x="427.7" dy="4.67">Density Of Cedar Is Less Than That Of Cedar. A Good Starting Place If About 3.2 mm Or</tspan><tspan x="427.7" dy="4.67">About 1/8" Thickness. With a Good Stiff Sitka Spruce You Can Reduce This Dimension A Bit.</tspan></text>
<text x="190" y="545.95" font-family="Liberation Sans" font-size="4.1" font-style="italic" font-weight="normal" fill="#7a7a7a" text-anchor="start" ><tspan x="190" dy="0">Neck Attachment Shown: Bolt-on Neck</tspan><tspan x="190" dy="4.75">With (2) 1/4" x 1-1/2" SS Hex-Head Bolts</tspan><tspan x="190" dy="4.75">&amp; SS Washer. Set Brass Threaded Inserts</tspan><tspan x="190" dy="4.75">Into Neck Tenon</tspan></text>
<text x="170" y="565.95" font-family="Liberation Sans" font-size="4.1" font-style="italic" font-weight="normal" fill="#7a7a7a" text-anchor="start" ><tspan x="170" dy="0">Kerfed Lining Made From Either Basswood, Mahogany</tspan><tspan x="170" dy="4.62">Or Cedar. Many Spanish Classicals Use Solid Kerfing</tspan><tspan x="170" dy="4.62">For The Back Plate Attachment. If You Choose To Do</tspan><tspan x="170" dy="4.62">That Make Sure The Kerfing Is Pre-Bent Prior To</tspan><tspan x="170" dy="4.62">Gluing. Do Not Introduce Stress Into The Guitar</tspan></text>
<text x="393" y="551.45" font-family="Liberation Sans" font-size="4.1" font-style="italic" font-weight="normal" fill="#7a7a7a" text-anchor="start" ><tspan x="393" dy="0">Braces Shown Here Have An Eliptical Shape. Other Options</tspan><tspan x="393" dy="4.3">Are Triangular, And Rectangular With A Rounded Top</tspan></text>
<text x="378.3" y="574.75" font-family="Liberation Sans" font-size="4.1" font-style="italic" font-weight="normal" fill="#7a7a7a" text-anchor="start" ><tspan x="378.3" dy="0">Tone Bracing For Top. Spruce Or Cedar. Vertical</tspan><tspan x="378.3" dy="4.7">Grain, No Run-Out. Use Fine Grain Wood.</tspan></text>
<text x="378.3" y="593.45" font-family="Liberation Sans" font-size="4.1" font-style="italic" font-weight="normal" fill="#7a7a7a" text-anchor="start" ><tspan x="378.3" dy="0">Side Braces: Made From Honduras Mahogany.</tspan><tspan x="378.3" dy="4.5">5mm x 6mm High. Scallop Ends &amp; Round Tops</tspan></text>
<text x="542" y="549.75" font-family="Liberation Sans" font-size="4.1" font-style="italic" font-weight="normal" fill="#7a7a7a" text-anchor="start" ><tspan x="542" dy="0">Edge Purfling: Solid Wood Is Preferred</tspan><tspan x="542" dy="4.7">Over Plastic As Plastic Is An Insulator. The</tspan><tspan x="542" dy="4.7">Edges Of The Guitar Need To Be Routed</tspan><tspan x="542" dy="4.7">And Stepped To Receive The Levels Of</tspan><tspan x="542" dy="4.7">Purfling And Trim. Round The Edges Of All</tspan><tspan x="542" dy="4.7">Purflings To Remove All Sharp Edges And</tspan><tspan x="542" dy="4.7">Allow Finish To Adhere.</tspan></text>
<text x="94.3" y="617.75" font-family="Liberation Sans" font-size="3.8" font-style="italic" font-weight="normal" fill="#7a7a7a" text-anchor="start" ><tspan x="94.3" dy="0">Approx. Arch</tspan></text>
<text x="161.8" y="637.75" font-family="Liberation Sans" font-size="4.1" font-style="italic" font-weight="normal" fill="#7a7a7a" text-anchor="start" ><tspan x="161.8" dy="0">Take Care To Shape The Butt And Neck Blocks To Carefully Follow</tspan><tspan x="161.8" dy="4.6">The Curvature Of The Back Plate.</tspan><tspan x="161.8" dy="9.2">Use Our Arch Sanding Tool To Sand The Edges Of The Guitar To</tspan><tspan x="161.8" dy="4.6">Achieve The Proper Angle on the Top Of The Lining And Sides To</tspan><tspan x="161.8" dy="4.6">Receive The Back Plate.</tspan><tspan x="161.8" dy="9.2">Back Center Decoration Is Optional. Decoration Varies From A Single</tspan><tspan x="161.8" dy="4.6">Piece of Veneer To Multi-laminated Wood Purfling. Also Abalone Is</tspan><tspan x="161.8" dy="4.6">Often Used. Refer To Our Guitar &amp; Ukulele Construction Book For</tspan><tspan x="161.8" dy="4.6">Specifics For Making And Installing The Center Decoration.</tspan></text>
<text x="338.8" y="645.75" font-family="Liberation Sans" font-size="4.1" font-style="italic" font-weight="normal" fill="#7a7a7a" text-anchor="start" ><tspan x="338.8" dy="0">To Cover Up The Center Seam Inside The Guitar Body And Give The</tspan><tspan x="338.8" dy="4.62">Joint Additional Strength Use A Strip Of Maple Or Other Hardwood,</tspan><tspan x="338.8" dy="4.62">2.5mm Thick. Run Between The Braces And Round-Off As Shown. The</tspan><tspan x="338.8" dy="4.62">Best Way To Install This Is As One Long Piece And Carefully Cut And</tspan><tspan x="338.8" dy="4.62">Chisel Out The Channels For The Back Braces.</tspan><tspan x="338.8" dy="9.24">Arch The Back Of The Guitar For Sound Reflectance Quality And To</tspan><tspan x="338.8" dy="4.62">Allow Some Tolerance For Humidity Changes. This Arch Should Be</tspan><tspan x="338.8" dy="4.62">Approximately 4 to 6mm Across The Wide Part Of The Back Plate.</tspan></text>
<line x1="918.8" y1="372.5" x2="1101.3" y2="372.5" stroke="#777" stroke-width="0.6"/>
<line x1="918.8" y1="373.8" x2="1101.3" y2="373.8" stroke="#aaa" stroke-width="0.4"/>
<line x1="922" y1="372.5" x2="922" y2="373.8" stroke="#999" stroke-width="0.3"/>
<line x1="931" y1="372.5" x2="931" y2="373.8" stroke="#999" stroke-width="0.3"/>
<line x1="940" y1="372.5" x2="940" y2="373.8" stroke="#999" stroke-width="0.3"/>
<line x1="949" y1="372.5" x2="949" y2="373.8" stroke="#999" stroke-width="0.3"/>
<line x1="958" y1="372.5" x2="958" y2="373.8" stroke="#999" stroke-width="0.3"/>
<line x1="967" y1="372.5" x2="967" y2="373.8" stroke="#999" stroke-width="0.3"/>
<line x1="976" y1="372.5" x2="976" y2="373.8" stroke="#999" stroke-width="0.3"/>
<line x1="985" y1="372.5" x2="985" y2="373.8" stroke="#999" stroke-width="0.3"/>
<line x1="994" y1="372.5" x2="994" y2="373.8" stroke="#999" stroke-width="0.3"/>
<line x1="1003" y1="372.5" x2="1003" y2="373.8" stroke="#999" stroke-width="0.3"/>
<line x1="1012" y1="372.5" x2="1012" y2="373.8" stroke="#999" stroke-width="0.3"/>
<line x1="1021" y1="372.5" x2="1021" y2="373.8" stroke="#999" stroke-width="0.3"/>
<line x1="1030" y1="372.5" x2="1030" y2="373.8" stroke="#999" stroke-width="0.3"/>
<line x1="1039" y1="372.5" x2="1039" y2="373.8" stroke="#999" stroke-width="0.3"/>
<line x1="1048" y1="372.5" x2="1048" y2="373.8" stroke="#999" stroke-width="0.3"/>
<line x1="1057" y1="372.5" x2="1057" y2="373.8" stroke="#999" stroke-width="0.3"/>
<line x1="1066" y1="372.5" x2="1066" y2="373.8" stroke="#999" stroke-width="0.3"/>
<line x1="1075" y1="372.5" x2="1075" y2="373.8" stroke="#999" stroke-width="0.3"/>
<line x1="1084" y1="372.5" x2="1084" y2="373.8" stroke="#999" stroke-width="0.3"/>
<line x1="1093" y1="372.5" x2="1093" y2="373.8" stroke="#999" stroke-width="0.3"/>
<rect x="918.8" y="376.3" width="156.2" height="5" fill="#fdfdfd" stroke="#3c3c3c" stroke-width="0.6" rx="0" />
<path d="M980,381.3 L1080,381.3 Q1082.5,381.3 1082.5,383 Q1082.5,384.6 1080,384.6 L1031,384.6" stroke="#3c3c3c" stroke-width="0.55" fill="none" />
<rect x="918.8" y="381.3" width="61.2" height="11.2" fill="#c9c9c9" stroke="#555" stroke-width="0.5" rx="0" />
<rect x="980" y="381.3" width="8" height="11" fill="#bdbdbd" stroke="#555" stroke-width="0.4" rx="0" />
<rect x="996" y="382.5" width="17.8" height="9.5" fill="#f8dcc4" stroke="#b89070" stroke-width="0.4" rx="0" />
<rect x="1020" y="384" width="9" height="8" fill="#d8d8d8" stroke="#555" stroke-width="0.4" rx="0" />
<circle cx="1005" cy="387.5" r="0.9" fill="#111" stroke="none" stroke-width="0.6"/>
<circle cx="946.5" cy="385" r="0.9" fill="#111" stroke="none" stroke-width="0.6"/>
<circle cx="949.5" cy="394" r="0.9" fill="#111" stroke="none" stroke-width="0.6"/>
<circle cx="1071" cy="392.5" r="0.9" fill="#111" stroke="none" stroke-width="0.6"/>
<line x1="980" y1="381.3" x2="980" y2="459.5" stroke="#3c3c3c" stroke-width="0.7"/>
<line x1="982" y1="383" x2="982" y2="459" stroke="#777" stroke-width="0.4"/>
<line x1="1030.5" y1="392" x2="1030.5" y2="463" stroke="#777" stroke-width="0.4"/>
<line x1="1005.5" y1="392" x2="1005.5" y2="462" stroke="#555" stroke-width="0.4" stroke-dasharray="1.5,1.2"/>
<line x1="1053" y1="381" x2="1053" y2="445" stroke="#888" stroke-width="0.35"/>
<circle cx="1053" cy="381" r="0.9" fill="#111" stroke="none" stroke-width="0.6"/>
<polygon points="982.5,447 982.5,459.3 987,459.8" stroke="none" stroke-width="0" fill="#bbb"/>
<path d="M918.8,400 C945,402 958,425 955,456" stroke="#3c3c3c" stroke-width="0.8" fill="none" />
<line x1="918.8" y1="400" x2="980" y2="400" stroke="#888" stroke-width="0.4"/>
<line x1="918.8" y1="392.5" x2="980" y2="392.5" stroke="#888" stroke-width="0.4"/>
<line x1="954" y1="456" x2="980" y2="460" stroke="#333" stroke-width="1.6"/>
<path d="M980,460 L1101,473.5 L1101,470.5 L980,457.5" stroke="#555" stroke-width="0.6" fill="none" />
<line x1="955" y1="460" x2="955" y2="470" stroke="#999" stroke-width="0.3"/>
<path d="M1080,470 L1080,455 Q1083,450 1086,455 L1086,470" stroke="#555" stroke-width="0.4" fill="none" />
<path d="M1073,380 L1073,395 Q1070,399 1069,395 L1068,381" stroke="#777" stroke-width="0.4" fill="#eee" />
<circle cx="990.5" cy="402.5" r="5.4" fill="#fbe8d8" stroke="#e0b894" stroke-width="0.5"/>
<rect x="980.7" y="401.1" width="51" height="2.8" fill="#f8dcc4" stroke="#b88a60" stroke-width="0.45" rx="0" />
<circle cx="986" cy="406.5" r="0.9" fill="#111" stroke="none" stroke-width="0.6"/>
<circle cx="1031.5" cy="402.5" r="0.9" fill="#111" stroke="none" stroke-width="0.6"/>
<circle cx="990.5" cy="441.3" r="5.4" fill="#fbe8d8" stroke="#e0b894" stroke-width="0.5"/>
<rect x="980.7" y="439.90000000000003" width="51" height="2.8" fill="#f8dcc4" stroke="#b88a60" stroke-width="0.45" rx="0" />
<circle cx="986" cy="445.3" r="0.9" fill="#111" stroke="none" stroke-width="0.6"/>
<circle cx="1031.5" cy="441.3" r="0.9" fill="#111" stroke="none" stroke-width="0.6"/>
<circle cx="1053" cy="402.5" r="0.9" fill="#111" stroke="none" stroke-width="0.6"/>
<circle cx="1053" cy="427.3" r="0.9" fill="#111" stroke="none" stroke-width="0.6"/>
<circle cx="1053" cy="441.3" r="0.9" fill="#111" stroke="none" stroke-width="0.6"/>
<line x1="1031" y1="402.5" x2="1063" y2="402.5" stroke="#9a9a9a" stroke-width="0.35"/>
<line x1="1031" y1="441.3" x2="1063" y2="441.3" stroke="#9a9a9a" stroke-width="0.35"/>
<line x1="980" y1="427.3" x2="1030.5" y2="427.3" stroke="#999" stroke-width="0.35"/>
<circle cx="980" cy="427.3" r="0.9" fill="#111" stroke="none" stroke-width="0.6"/>
<circle cx="990.5" cy="427.3" r="0.9" fill="#111" stroke="none" stroke-width="0.6"/>
<circle cx="1030.5" cy="427.3" r="0.9" fill="#111" stroke="none" stroke-width="0.6"/>
<circle cx="957" cy="439.5" r="0.9" fill="#111" stroke="none" stroke-width="0.6"/>
<line x1="1031" y1="447" x2="1101" y2="455" stroke="#888" stroke-width="0.4"/>
<line x1="922" y1="411" x2="942" y2="395" stroke="#9a9a9a" stroke-width="0.35"/>
<line x1="922" y1="425.5" x2="980" y2="407" stroke="#9a9a9a" stroke-width="0.35"/>
<line x1="922" y1="425.5" x2="987" y2="436" stroke="#9a9a9a" stroke-width="0.35"/>
<line x1="900" y1="439" x2="957" y2="439.5" stroke="#9a9a9a" stroke-width="0.35"/>
<line x1="960" y1="439" x2="990" y2="437" stroke="#9a9a9a" stroke-width="0.35"/>
<line x1="1066" y1="412.3" x2="1031" y2="402.5" stroke="#9a9a9a" stroke-width="0.35"/>
<line x1="1066" y1="421.7" x2="1031" y2="395" stroke="#9a9a9a" stroke-width="0.35"/>
<line x1="1066" y1="431" x2="1031" y2="402.5" stroke="#9a9a9a" stroke-width="0.35"/>
<line x1="1066" y1="431" x2="1031" y2="441.3" stroke="#9a9a9a" stroke-width="0.35"/>
<line x1="1088" y1="398" x2="1073" y2="392" stroke="#9a9a9a" stroke-width="0.35"/>
<text x="865.7" y="408.15" font-family="Liberation Sans" font-size="4.1" font-style="italic" font-weight="normal" fill="#7a7a7a" text-anchor="start" ><tspan x="865.7" dy="0">Dashed Lines Indicate Two-Way</tspan><tspan x="865.7" dy="4.65">Truss Adjustment Rod. Cut Channel</tspan><tspan x="865.7" dy="4.65">As Per Truss Rod Suppliers Specs</tspan></text>
<text x="865.7" y="426.75" font-family="Liberation Sans" font-size="4.1" font-style="italic" font-weight="normal" fill="#7a7a7a" text-anchor="start" ><tspan x="865.7" dy="0">10mm Diamter Holes For Brass</tspan><tspan x="865.7" dy="4.65">Cross Dowels - 2 Required</tspan></text>
<text x="865.7" y="440.45" font-family="Liberation Sans" font-size="4.1" font-style="italic" font-weight="normal" fill="#7a7a7a" text-anchor="start" ><tspan x="865.7" dy="0">Outline of Heel</tspan></text>
<text x="1088.3" y="399.45" font-family="Liberation Sans" font-size="4.1" font-style="italic" font-weight="normal" fill="#7a7a7a" text-anchor="start" ><tspan x="1088.3" dy="0">Access Hole For</tspan><tspan x="1088.3" dy="4.7">Truss Rod Nut</tspan></text>
<text x="1066" y="413.75" font-family="Liberation Sans" font-size="4.1" font-style="italic" font-weight="normal" fill="#7a7a7a" text-anchor="start" ><tspan x="1066" dy="0">Hex Truss Rod Adjustment Nut</tspan></text>
<text x="1066" y="423.15" font-family="Liberation Sans" font-size="4.1" font-style="italic" font-weight="normal" fill="#7a7a7a" text-anchor="start" ><tspan x="1066" dy="0">Truss Rod Cap</tspan></text>
<text x="1066" y="432.45" font-family="Liberation Sans" font-size="4.1" font-style="italic" font-weight="normal" fill="#7a7a7a" text-anchor="start" ><tspan x="1066" dy="0">2" Brass Connector Bolts</tspan></text>
<text x="926" y="492.6" font-family="Liberation Sans" font-size="8.35" font-style="italic" font-weight="normal" fill="#4a4a4a" text-anchor="start" ><tspan x="926" dy="0">Alternate Neck Connection Method Using</tspan></text>
<text x="925" y="501.8" font-family="Liberation Sans" font-size="8.35" font-style="italic" font-weight="normal" fill="#4a4a4a" text-anchor="start" ><tspan x="925" dy="0">2" Bolts &amp; Brass Cross-Dowels - Elevation</tspan></text>
<text x="1035" y="508.95" font-family="Liberation Sans" font-size="4.1" font-style="italic" font-weight="normal" fill="#7a7a7a" text-anchor="start" ><tspan x="1035" dy="0">Another Popular Option Is The</tspan><tspan x="1035" dy="4.75">Use Of 1/4x20 Brass Inserts Placed</tspan><tspan x="1035" dy="4.75">In The Neck Tongue With 1/4"x20</tspan><tspan x="1035" dy="4.75">Stainless Steel Hex Head Bolts Used</tspan><tspan x="1035" dy="4.75">To Through-Bolt Within The Head</tspan><tspan x="1035" dy="4.75">Block</tspan></text>
<rect x="1040" y="562.5" width="3" height="100" fill="#d8d8d8" stroke="#3c3c3c" stroke-width="0.6" rx="0" />
<path d="M1043,580 L1084,580 Q1091.3,580 1091.3,587 L1091.3,637.5 Q1091.3,644.5 1084,644.5 L1043,644.5" stroke="#3c3c3c" stroke-width="0.7" fill="none" />
<path d="M1040.6,598.3 C1030,600 1022,606 1018.4,612 C1022,618 1030,625 1040.6,626.6" stroke="#3c3c3c" stroke-width="0.7" fill="none" />
<rect x="1045.2" y="603.3" width="10.7" height="18" fill="#f8dcc4" stroke="none" stroke-width="0.6" rx="0" />
<line x1="1042.9" y1="603.3" x2="1065.8" y2="603.3" stroke="#c07a40" stroke-width="1.3"/>
<line x1="1042.9" y1="621.3" x2="1065.8" y2="621.3" stroke="#c07a40" stroke-width="1.3"/>
<line x1="1065.8" y1="603.3" x2="1065.8" y2="621.3" stroke="#999" stroke-width="0.4"/>
<rect x="1040.6" y="611.3" width="51.3" height="2.4" fill="#f6dcc8" stroke="#c8a890" stroke-width="0.3" rx="0" />
<line x1="1006" y1="612" x2="1120" y2="612" stroke="#9a9a9a" stroke-width="0.3" stroke-dasharray="3,1.5"/>
<line x1="1046" y1="585" x2="1046" y2="650" stroke="#999" stroke-width="0.35" stroke-dasharray="1.5,1.2"/>
<line x1="1056" y1="585" x2="1056" y2="650" stroke="#999" stroke-width="0.35" stroke-dasharray="1.5,1.2"/>
<circle cx="1039.5" cy="573.5" r="0.9" fill="#111" stroke="none" stroke-width="0.6"/>
<circle cx="1047" cy="586" r="0.9" fill="#111" stroke="none" stroke-width="0.6"/>
<circle cx="1053.5" cy="606" r="0.9" fill="#111" stroke="none" stroke-width="0.6"/>
<circle cx="1075.5" cy="610" r="0.9" fill="#111" stroke="none" stroke-width="0.6"/>
<circle cx="1046.5" cy="624.5" r="0.9" fill="#111" stroke="none" stroke-width="0.6"/>
<circle cx="1034" cy="629.5" r="0.9" fill="#111" stroke="none" stroke-width="0.6"/>
<circle cx="1046.5" cy="633.5" r="0.9" fill="#111" stroke="none" stroke-width="0.6"/>
<circle cx="1056" cy="633.5" r="0.9" fill="#111" stroke="none" stroke-width="0.6"/>
<line x1="1091.3" y1="580" x2="1130" y2="580" stroke="#9a9a9a" stroke-width="0.35"/>
<line x1="1091.3" y1="644.5" x2="1130" y2="644.5" stroke="#9a9a9a" stroke-width="0.35"/>
<line x1="1065.5" y1="603.3" x2="1115" y2="603.3" stroke="#9a9a9a" stroke-width="0.35"/>
<line x1="1065.5" y1="621.3" x2="1115" y2="621.3" stroke="#9a9a9a" stroke-width="0.35"/>
<line x1="1113.3" y1="580" x2="1113.3" y2="644.5" stroke="#777" stroke-width="0.4"/>
<line x1="1130" y1="580" x2="1130" y2="644.5" stroke="#777" stroke-width="0.4"/>
<circle cx="1113.3" cy="580" r="0.9" fill="#111" stroke="none" stroke-width="0.6"/>
<circle cx="1113.3" cy="603.3" r="0.9" fill="#111" stroke="none" stroke-width="0.6"/>
<circle cx="1113.3" cy="621.3" r="0.9" fill="#111" stroke="none" stroke-width="0.6"/>
<circle cx="1113.3" cy="644.5" r="0.9" fill="#111" stroke="none" stroke-width="0.6"/>
<circle cx="1130" cy="580" r="0.9" fill="#111" stroke="none" stroke-width="0.6"/>
<circle cx="1130" cy="644.5" r="0.9" fill="#111" stroke="none" stroke-width="0.6"/>
<line x1="1013.8" y1="614" x2="1013.8" y2="683" stroke="#9a9a9a" stroke-width="0.35"/>
<line x1="1018.4" y1="614" x2="1018.4" y2="683" stroke="#9a9a9a" stroke-width="0.35"/>
<line x1="1040.6" y1="614" x2="1040.6" y2="683" stroke="#9a9a9a" stroke-width="0.35"/>
<line x1="1065.8" y1="614" x2="1065.8" y2="683" stroke="#9a9a9a" stroke-width="0.35"/>
<line x1="1091.3" y1="614" x2="1091.3" y2="683" stroke="#9a9a9a" stroke-width="0.35"/>
<line x1="1013.8" y1="682" x2="1091.3" y2="682" stroke="#666" stroke-width="0.4"/>
<circle cx="1013.8" cy="682" r="0.9" fill="#111" stroke="none" stroke-width="0.6"/>
<circle cx="1018.4" cy="682" r="0.9" fill="#111" stroke="none" stroke-width="0.6"/>
<circle cx="1040.6" cy="682" r="0.9" fill="#111" stroke="none" stroke-width="0.6"/>
<circle cx="1065.8" cy="682" r="0.9" fill="#111" stroke="none" stroke-width="0.6"/>
<circle cx="1091.3" cy="682" r="0.9" fill="#111" stroke="none" stroke-width="0.6"/>
<path d="M1040.6,595 C1028,598 1018,605 1013.8,612 C1018,619 1028,626 1040.6,629" stroke="#9a9a9a" stroke-width="0.35" fill="none" />
<line x1="1040" y1="670" x2="1051" y2="670" stroke="#555" stroke-width="0.4"/>
<circle cx="1040" cy="670" r="0.9" fill="#111" stroke="none" stroke-width="0.6"/>
<circle cx="1051" cy="670" r="0.9" fill="#111" stroke="none" stroke-width="0.6"/>
<line x1="1040" y1="662" x2="1040" y2="672" stroke="#9a9a9a" stroke-width="0.35"/>
<line x1="1051" y1="662" x2="1051" y2="672" stroke="#9a9a9a" stroke-width="0.35"/>
<line x1="954" y1="574" x2="1039.5" y2="574" stroke="#9a9a9a" stroke-width="0.35"/>
<line x1="1010" y1="584" x2="1047" y2="586" stroke="#9a9a9a" stroke-width="0.35"/>
<line x1="1008" y1="603" x2="1040" y2="607" stroke="#9a9a9a" stroke-width="0.35"/>
<line x1="1005" y1="635" x2="1034" y2="629.5" stroke="#9a9a9a" stroke-width="0.35"/>
<line x1="1020" y1="653" x2="1046" y2="634" stroke="#9a9a9a" stroke-width="0.35"/>
<line x1="1077" y1="555" x2="1057" y2="598" stroke="#9a9a9a" stroke-width="0.35"/>
<line x1="1075" y1="570" x2="1075" y2="610" stroke="#9a9a9a" stroke-width="0.35"/>
<line x1="1077" y1="654" x2="1056" y2="634" stroke="#9a9a9a" stroke-width="0.35"/>
<text x="1077" y="555.95" font-family="Liberation Sans" font-size="4.1" font-style="italic" font-weight="normal" fill="#7a7a7a" text-anchor="start" ><tspan x="1077" dy="0">10mm x 16mm L Brass Cross</tspan><tspan x="1077" dy="4.5">Dowels</tspan></text>
<text x="1077" y="569.95" font-family="Liberation Sans" font-size="4.1" font-style="italic" font-weight="normal" fill="#7a7a7a" text-anchor="start" ><tspan x="1077" dy="0">2" Brass Connector Bolts</tspan></text>
<text x="929.3" y="575.45" font-family="Liberation Sans" font-size="4.1" font-style="italic" font-weight="normal" fill="#7a7a7a" text-anchor="start" ><tspan x="929.3" dy="0">Guitar Sides</tspan></text>
<text x="929.3" y="584.95" font-family="Liberation Sans" font-size="4.1" font-style="italic" font-weight="normal" fill="#7a7a7a" text-anchor="start" ><tspan x="929.3" dy="0">Guitar Neck Block. Vertical Grain Honduras</tspan><tspan x="929.3" dy="4.5">Mahogany.</tspan></text>
<text x="929.3" y="598.95" font-family="Liberation Sans" font-size="4.1" font-style="italic" font-weight="normal" fill="#7a7a7a" text-anchor="start" ><tspan x="929.3" dy="0">Neck Heel: Same Wood As Neck. This Is The</tspan><tspan x="929.3" dy="4.6">Contour At The Narrow Point Of The Heel. Quite</tspan><tspan x="929.3" dy="4.6">Often This Contour Changes Depending On</tspan><tspan x="929.3" dy="4.6">Luthier Construction Method.</tspan></text>
<text x="929.3" y="636.45" font-family="Liberation Sans" font-size="4.1" font-style="italic" font-weight="normal" fill="#7a7a7a" text-anchor="start" ><tspan x="929.3" dy="0">Dashed Lines Indicate Outline Of Heel At Back Or</tspan><tspan x="929.3" dy="4.5">Bottom Of Heel.</tspan></text>
<text x="929.3" y="654.75" font-family="Liberation Sans" font-size="4.1" font-style="italic" font-weight="normal" fill="#7a7a7a" text-anchor="start" ><tspan x="929.3" dy="0">Shaded Areas Are Hardwood Laminate Pieces</tspan><tspan x="929.3" dy="4.5">Epoxy Glued To the Tenon. Run Grain 90</tspan><tspan x="929.3" dy="4.5">Degrees To The Neck Grain.</tspan></text>
<text x="1077" y="655.25" font-family="Liberation Sans" font-size="4.1" font-style="italic" font-weight="normal" fill="#7a7a7a" text-anchor="start" ><tspan x="1077" dy="0">Drill 10mm Holes Through Head</tspan><tspan x="1077" dy="4.6">Block And Tenon For Cross Dowel</tspan><tspan x="1077" dy="4.6">Installation</tspan></text>
<text x="986.2" y="713.3" font-family="Liberation Sans" font-size="8.35" font-style="italic" font-weight="normal" fill="#4a4a4a" text-anchor="start" ><tspan x="986.2" dy="0">Alternate Neck Connection Method Using</tspan></text>
<text x="994.3" y="722.6" font-family="Liberation Sans" font-size="8.35" font-style="italic" font-weight="normal" fill="#4a4a4a" text-anchor="start" ><tspan x="994.3" dy="0">2" Bolts &amp; Brass Cross-Dowels - Plan</tspan></text>
<text x="1068.8" y="749.6500000000001" font-family="Liberation Sans" font-size="4.7" font-style="italic" font-weight="normal" fill="#777" text-anchor="start" ><tspan x="1068.8" dy="0">Note For Detailed Guitar &amp; Uke Construction Instructions</tspan><tspan x="1068.8" dy="6.4">Refer To Our Book "Guitar &amp; Ukulele Construction</tspan><tspan x="1068.8" dy="6.4">Handbook</tspan></text>
<g transform="translate(14,765) scale(0.08361)">
<defs><clipPath id="pl1"><rect x="18" y="30" width="800" height="785"/></clipPath><linearGradient id="olv" x1="0" y1="0" x2="0" y2="1"><stop offset="0" stop-color="#7d6a44"/><stop offset="0.6" stop-color="#8e7a52"/><stop offset="1" stop-color="#a8956c"/></linearGradient><radialGradient id="crm" cx="0.5" cy="0.6" r="0.7"><stop offset="0" stop-color="#efece6"/><stop offset="1" stop-color="#d8d4cc"/></radialGradient></defs><g clip-path="url(#pl1)">
<path d="M20,80 L20,815 L545,815 C640,760 720,700 775,640 C740,560 705,470 690,380 C680,330 670,300 660,285 L510,80 C490,130 460,175 420,205 C360,240 280,240 230,215 C195,190 175,150 150,95 L90,115 L20,80 Z" stroke="none" stroke-width="0" fill="url(#crm)" />
<path d="M90,115 L150,95 C175,150 195,190 230,215 C280,240 360,240 420,205 C460,175 490,130 510,80 C560,150 620,230 665,288 C640,330 560,390 470,440 C420,460 360,465 320,462 C280,440 255,410 240,380 C200,290 140,190 90,115 Z" stroke="none" stroke-width="0" fill="url(#olv)" />
<path d="M150,95 C175,150 195,190 230,215 C280,240 360,240 420,205 C460,175 490,130 510,80" stroke="#f4efe0" stroke-width="6" fill="none" />
<path d="M320,465 C420,470 560,400 665,288 C700,320 705,380 690,420" stroke="#a8a8c0" stroke-width="7" fill="none" />
<path d="M18,78 L48,92 L332,578 L168,655 L18,592 Z" stroke="none" stroke-width="0" fill="#2b2f3b" />
<line x1="48" y1="92" x2="332" y2="578" stroke="#e8e8e8" stroke-width="6"/>
<ellipse cx="272" cy="662" rx="158" ry="58" transform="rotate(-13 272 662)" fill="#b8b6b4"/>
<ellipse cx="272" cy="664" rx="140" ry="44" transform="rotate(-13 272 664)" fill="#33261c"/>
<path d="M360,705 L455,560 L540,548 L600,640 L470,728 Z" stroke="none" stroke-width="0" fill="#8f8d8b" />
<path d="M600,470 C650,450 690,440 700,440 C720,520 745,580 770,640 L640,600 Z" stroke="none" stroke-width="0" fill="#9a8160" />
<path d="M20,610 L165,665 L290,760 L240,815 L20,815 Z" stroke="none" stroke-width="0" fill="#dcd9d3" />
</g></g>
<g transform="translate(262,765) scale(0.08834)">
<defs><linearGradient id="wd" x1="0" y1="0" x2="0" y2="1"><stop offset="0" stop-color="#8a6450"/><stop offset="1" stop-color="#96705a"/></linearGradient></defs>
<path d="M70,480 L190,330 L1000,330 L1115,540 L1012,668 L185,688 L70,560 Z" stroke="#cfc9b2" stroke-width="5" fill="#ede7d0" />
<path d="M70,560 L185,688 L1012,668 L1115,540" stroke="#b8b2a0" stroke-width="8" fill="none" />
<path d="M70,470 L190,390 L290,510 L180,590 Z" stroke="none" stroke-width="0" fill="#f5f3ee" />
<path d="M900,360 L1010,340 L1112,540 L1030,640 L940,570 Z" stroke="none" stroke-width="0" fill="#e6e3da" />
<line x1="935" y1="560" x2="1030" y2="620" stroke="#c8c5bb" stroke-width="4"/>
<line x1="955" y1="525" x2="1045" y2="570" stroke="#c8c5bb" stroke-width="4"/>
<line x1="975" y1="490" x2="1060" y2="520" stroke="#c8c5bb" stroke-width="4"/>
<line x1="995" y1="455" x2="1075" y2="470" stroke="#c8c5bb" stroke-width="4"/>
<line x1="1015" y1="420" x2="1090" y2="420" stroke="#c8c5bb" stroke-width="4"/>
<line x1="1035" y1="385" x2="1105" y2="370" stroke="#c8c5bb" stroke-width="4"/>
<path d="M230,300 C300,350 420,355 500,345 C560,340 620,345 700,370 C800,395 880,385 905,360 L905,470 C850,500 700,490 600,465 C520,460 380,470 290,460 Z" stroke="none" stroke-width="0" fill="#b27a5b" />
<path d="M290,380 C450,390 650,385 900,395" stroke="#c08a6a" stroke-width="4" fill="none" />
<path d="M290,402 C450,412 650,407 900,417" stroke="#c08a6a" stroke-width="4" fill="none" />
<path d="M290,424 C450,434 650,429 900,439" stroke="#c08a6a" stroke-width="4" fill="none" />
<path d="M290,446 C450,456 650,451 900,461" stroke="#c08a6a" stroke-width="4" fill="none" />
<path d="M290,468 C450,478 650,473 900,483" stroke="#c08a6a" stroke-width="4" fill="none" />
<path d="M195,210 C190,130 250,95 400,98 C470,100 520,122 565,118 C640,85 770,72 870,95 C965,125 1010,200 998,285 C985,360 920,392 800,386 C700,380 625,342 562,346 C485,352 420,362 330,356 C235,346 200,290 195,210 Z" stroke="#e6d6c0" stroke-width="10" fill="url(#wd)" />
<path d="M215,135 C400,143 700,127 990,140" stroke="#a07a64" stroke-width="5" fill="none" />
<path d="M215,168 C400,176 700,160 990,173" stroke="#a07a64" stroke-width="5" fill="none" />
<path d="M215,201 C400,209 700,193 990,206" stroke="#a07a64" stroke-width="5" fill="none" />
<path d="M215,234 C400,242 700,226 990,239" stroke="#a07a64" stroke-width="5" fill="none" />
<path d="M215,267 C400,275 700,259 990,272" stroke="#a07a64" stroke-width="5" fill="none" />
<path d="M215,300 C400,308 700,292 990,305" stroke="#a07a64" stroke-width="5" fill="none" />
<path d="M215,333 C400,341 700,325 990,338" stroke="#a07a64" stroke-width="5" fill="none" />
<rect x="232" y="345" width="58" height="175" fill="#f2f2f0" stroke="none" stroke-width="0.6" rx="0" />
<rect x="492" y="335" width="82" height="290" fill="#f4f4f2" stroke="none" stroke-width="0.6" rx="0" />
<line x1="495" y1="560" x2="570" y2="560" stroke="#ccc" stroke-width="4"/>
<line x1="495" y1="590" x2="570" y2="590" stroke="#ccc" stroke-width="4"/>
<circle cx="120" cy="445" r="40" fill="#2a3350" stroke="none" stroke-width="0.6"/>
<circle cx="108.0" cy="433.0" r="12.0" fill="#4a5575" stroke="none" stroke-width="0.6"/>
<circle cx="525" cy="440" r="36" fill="#2a3350" stroke="none" stroke-width="0.6"/>
<circle cx="514.2" cy="429.2" r="10.799999999999999" fill="#4a5575" stroke="none" stroke-width="0.6"/>
<circle cx="1020" cy="488" r="36" fill="#2a3350" stroke="none" stroke-width="0.6"/>
<circle cx="1009.2" cy="477.2" r="10.799999999999999" fill="#4a5575" stroke="none" stroke-width="0.6"/>
<circle cx="222" cy="102" r="30" fill="#2a3350" stroke="none" stroke-width="0.6"/>
<circle cx="213.0" cy="93.0" r="9.0" fill="#4a5575" stroke="none" stroke-width="0.6"/>
<circle cx="852" cy="92" r="14" fill="#2a3350" stroke="none" stroke-width="0.6"/>
<circle cx="847.8" cy="87.8" r="4.2" fill="#4a5575" stroke="none" stroke-width="0.6"/>
<line x1="525" y1="440" x2="525" y2="520" stroke="#2a3350" stroke-width="12"/>
</g>
<rect x="15.5" y="767" width="1169.5" height="66.5" fill="none" stroke="#4a4a4a" stroke-width="0.9" rx="0" />
<line x1="491.2" y1="767" x2="491.2" y2="833.5" stroke="#4a4a4a" stroke-width="0.8"/>
<line x1="1041.3" y1="767" x2="1041.3" y2="833.5" stroke="#4a4a4a" stroke-width="0.8"/>
<line x1="1114.5" y1="767" x2="1114.5" y2="833.5" stroke="#4a4a4a" stroke-width="0.8"/>
<line x1="1041.3" y1="781.2" x2="1114.5" y2="781.2" stroke="#4a4a4a" stroke-width="0.7"/>
<line x1="1041.3" y1="792.5" x2="1114.5" y2="792.5" stroke="#4a4a4a" stroke-width="0.7"/>
<line x1="1041.3" y1="803.8" x2="1114.5" y2="803.8" stroke="#4a4a4a" stroke-width="0.7"/>
<text x="1046" y="775.8" font-family="Liberation Sans" font-size="5.5" font-style="normal" font-weight="normal" fill="#666" text-anchor="start" ><tspan x="1046" dy="0">Date: Nov. 15, 2018</tspan></text>
<text x="1046" y="788.6" font-family="Liberation Sans" font-size="5.5" font-style="normal" font-weight="normal" fill="#666" text-anchor="start" ><tspan x="1046" dy="0">Revisions: May 31, 2019</tspan></text>
<text x="1045" y="811" font-family="Liberation Sans" font-size="4.1" font-style="normal" font-weight="normal" fill="#808080" text-anchor="start" ><tspan x="1045" dy="0">Unless Noted Otherwise, These</tspan><tspan x="1045" dy="4.75">Plans Are Drawn to Full Scale. They</tspan><tspan x="1045" dy="4.75">Are Labeled in mm and Fractional</tspan><tspan x="1045" dy="4.75">Inches.</tspan></text>
<text x="1150" y="773.2" font-family="Liberation Sans" font-size="4.0" font-style="normal" font-weight="normal" fill="#aaa" text-anchor="middle" ><tspan x="1150" dy="0">Om-14 fret florentine_2</tspan></text>
<text x="1131.4" y="814.1" font-family="Liberation Sans" font-size="35.5" font-style="normal" font-weight="normal" fill="#111" text-anchor="start" textLength="37.4" lengthAdjust="spacingAndGlyphs" stroke="#fff" stroke-width="0.5"><tspan x="1131.4" dy="0">02</tspan></text>
<text x="521.5" y="822.3" font-family="Liberation Sans" font-size="33.05" font-style="italic" font-weight="normal" fill="#111" text-anchor="start" ><tspan x="521.5" dy="0">OM-14 Fret Florentine Guitar Plan</tspan></text>
<text x="697.5" y="787.5" font-family="Liberation Sans" font-size="15.1" font-style="italic" font-weight="normal" fill="#222" text-anchor="start" ><tspan x="697.5" dy="0">GenOne Luthier Supply</tspan></text>
<text x="71" y="786.8" font-family="Liberation Sans" font-size="18.2" font-style="italic" font-weight="normal" fill="#1a1a1a" text-anchor="start" stroke="#fff" stroke-width="0.55"><tspan x="71" dy="0">GenOne Luthier Supplies</tspan></text>
<text x="92.3" y="800.5" font-family="Liberation Sans" font-size="8.65" font-style="italic" font-weight="normal" fill="#9c9c9c" text-anchor="start" stroke="#fff" stroke-width="0.2"><tspan x="92.3" dy="0">Guitar Plans</tspan></text>
<text x="182.3" y="800.5" font-family="Liberation Sans" font-size="8.65" font-style="italic" font-weight="normal" fill="#9c9c9c" text-anchor="start" stroke="#fff" stroke-width="0.2"><tspan x="182.3" dy="0">Mandolin Plans</tspan></text>
<text x="92.3" y="811.0" font-family="Liberation Sans" font-size="8.65" font-style="italic" font-weight="normal" fill="#9c9c9c" text-anchor="start" stroke="#fff" stroke-width="0.2"><tspan x="92.3" dy="0">Ukulele Plans</tspan></text>
<text x="182.3" y="811.0" font-family="Liberation Sans" font-size="8.65" font-style="italic" font-weight="normal" fill="#9c9c9c" text-anchor="start" stroke="#fff" stroke-width="0.2"><tspan x="182.3" dy="0">Luthier Tool Plans</tspan></text>
<text x="92.3" y="821.5" font-family="Liberation Sans" font-size="8.65" font-style="italic" font-weight="normal" fill="#9c9c9c" text-anchor="start" stroke="#fff" stroke-width="0.2"><tspan x="92.3" dy="0">Electric Guitar Plans</tspan></text>
<text x="182.3" y="821.5" font-family="Liberation Sans" font-size="8.65" font-style="italic" font-weight="normal" fill="#9c9c9c" text-anchor="start" stroke="#fff" stroke-width="0.2"><tspan x="182.3" dy="0">2D &amp; 3D Plans</tspan></text>
<text x="378" y="773.7" font-family="Liberation Sans" font-size="4.15" font-style="normal" font-weight="normal" fill="#6a6a6a" text-anchor="start" ><tspan x="378" dy="0">This Drawing or Drawings Are To Used For One Use Only</tspan><tspan x="378" dy="4.69">And Not Reproduced For Any Other Purpose Than</tspan><tspan x="378" dy="4.69">Construction Of This Particular Instrument, and a One Time</tspan><tspan x="378" dy="4.69">Reproduction Only is Allowed</tspan><tspan x="378" dy="9.38">Reproduction, Distribution or Sales For Any Other Use Is</tspan><tspan x="378" dy="4.69">Strictly Prohibited And Falls Under U.S Copyright Laws For</tspan><tspan x="378" dy="4.69">David VerBurg AiA &amp; GenOne Services, Inc. (C) 2018</tspan><tspan x="378" dy="9.38">This Sheet Size Is Metric A0 Size Overall Size is 1189mm x</tspan><tspan x="378" dy="4.69">841mm With 15mm Borders On All Sides. For USA</tspan><tspan x="378" dy="4.69">Customers Print On Architectural "E" (36" x 48") Without</tspan><tspan x="378" dy="4.69">Resizing For 1:1 Printout</tspan></text>
</svg>
</body></html>
